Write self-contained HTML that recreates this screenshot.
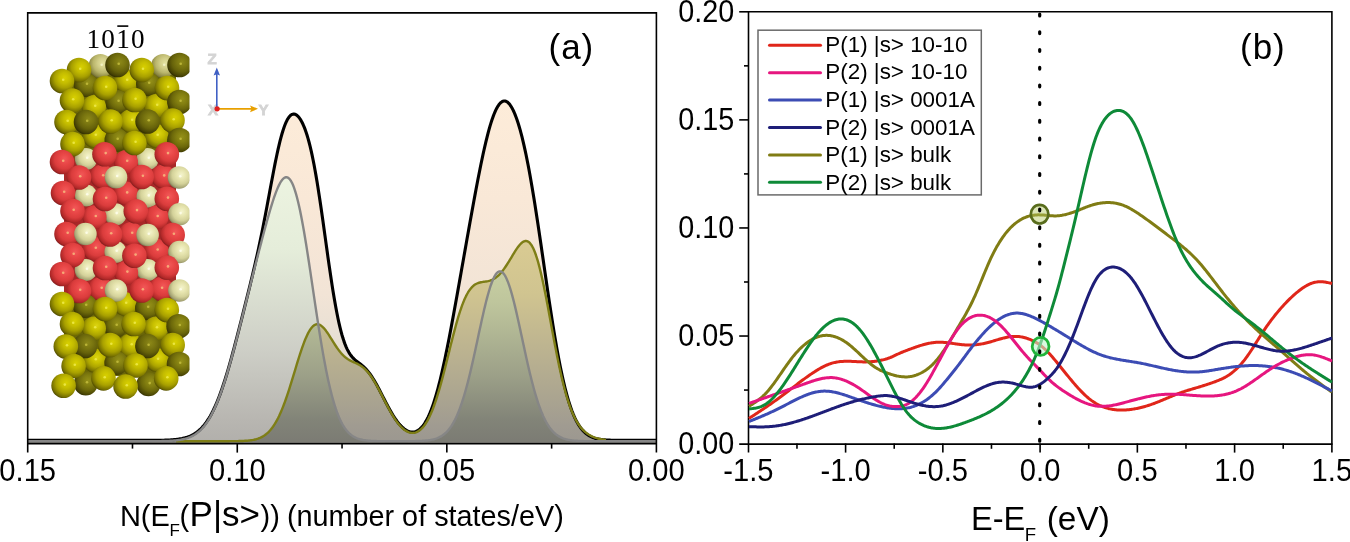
<!DOCTYPE html><html><head><meta charset="utf-8"><style>html,body{margin:0;padding:0;background:#fff;overflow:hidden}svg{display:block;will-change:transform}</style></head><body><svg width="1350" height="542" viewBox="0 0 1350 542" font-family="Liberation Sans, sans-serif">
<defs><radialGradient id="bY" cx="0.6" cy="0.38" r="0.72" fx="0.6" fy="0.38"><stop offset="0" stop-color="#d8d000"/><stop offset="0.3" stop-color="#c4bc00"/><stop offset="0.56" stop-color="#a8a000"/><stop offset="0.8" stop-color="#767000"/><stop offset="0.95" stop-color="#3e3a00"/></radialGradient><radialGradient id="bL" cx="0.6" cy="0.38" r="0.72" fx="0.6" fy="0.38"><stop offset="0" stop-color="#dcd410"/><stop offset="0.3" stop-color="#c8c000"/><stop offset="0.56" stop-color="#aca400"/><stop offset="0.8" stop-color="#7a7400"/><stop offset="0.95" stop-color="#423e00"/></radialGradient><radialGradient id="bD" cx="0.6" cy="0.38" r="0.72" fx="0.6" fy="0.38"><stop offset="0" stop-color="#8c8818"/><stop offset="0.3" stop-color="#7a7610"/><stop offset="0.56" stop-color="#66620a"/><stop offset="0.8" stop-color="#464204"/><stop offset="0.95" stop-color="#262400"/></radialGradient><radialGradient id="bO" cx="0.6" cy="0.38" r="0.72" fx="0.6" fy="0.38"><stop offset="0" stop-color="#949018"/><stop offset="0.3" stop-color="#827e10"/><stop offset="0.56" stop-color="#6c680a"/><stop offset="0.8" stop-color="#4a4604"/><stop offset="0.95" stop-color="#2a2800"/></radialGradient><radialGradient id="bP" cx="0.6" cy="0.38" r="0.72" fx="0.6" fy="0.38"><stop offset="0" stop-color="#e4e2a0"/><stop offset="0.3" stop-color="#d2ce88"/><stop offset="0.56" stop-color="#bab66c"/><stop offset="0.8" stop-color="#8c8844"/><stop offset="0.95" stop-color="#5a5628"/></radialGradient><radialGradient id="bR" cx="0.6" cy="0.38" r="0.72" fx="0.6" fy="0.38"><stop offset="0" stop-color="#f25858"/><stop offset="0.3" stop-color="#e84646"/><stop offset="0.56" stop-color="#da3c3c"/><stop offset="0.8" stop-color="#b02828"/><stop offset="0.95" stop-color="#701818"/></radialGradient><radialGradient id="bC" cx="0.6" cy="0.38" r="0.72" fx="0.6" fy="0.38"><stop offset="0" stop-color="#f4f4cc"/><stop offset="0.3" stop-color="#e6e4ae"/><stop offset="0.56" stop-color="#d4d29a"/><stop offset="0.8" stop-color="#a6a474"/><stop offset="0.95" stop-color="#6a6848"/></radialGradient><linearGradient id="slabbg" x1="0" y1="0" x2="0" y2="1"><stop offset="0" stop-color="#6a6608"/><stop offset="0.27" stop-color="#6a6608"/><stop offset="0.3" stop-color="#a82828"/><stop offset="0.73" stop-color="#a82828"/><stop offset="0.76" stop-color="#6a6608"/><stop offset="1" stop-color="#6a6608"/></linearGradient><clipPath id="slab"><rect x="40" y="40" width="149.5" height="380"/></clipPath><linearGradient id="gB" gradientUnits="userSpaceOnUse" x1="0" y1="100" x2="0" y2="440"><stop offset="0" stop-color="#fdecd9"/><stop offset="0.29" stop-color="#f9e8d7"/><stop offset="0.57" stop-color="#f2e4d6"/><stop offset="0.69" stop-color="#e8e0d4"/><stop offset="1" stop-color="#d6d0c8"/></linearGradient><linearGradient id="gG" gradientUnits="userSpaceOnUse" x1="0" y1="100" x2="0" y2="440"><stop offset="0.21" stop-color="#edf4e1"/><stop offset="0.44" stop-color="#e5edda"/><stop offset="0.74" stop-color="#cdcec6"/><stop offset="0.94" stop-color="#b8b6b1"/><stop offset="1" stop-color="#b2b0ac"/></linearGradient><linearGradient id="gO" gradientUnits="userSpaceOnUse" x1="0" y1="100" x2="0" y2="440"><stop offset="0.38" stop-color="#dacc94"/><stop offset="0.44" stop-color="#d8ca92"/><stop offset="0.57" stop-color="#d0c490"/><stop offset="0.88" stop-color="#aaa490"/><stop offset="0.96" stop-color="#a09b91"/><stop offset="1" stop-color="#9c9890"/></linearGradient><linearGradient id="gGO" gradientUnits="userSpaceOnUse" x1="0" y1="100" x2="0" y2="440"><stop offset="0.47" stop-color="#c8cfa4"/><stop offset="0.54" stop-color="#c4cba0"/><stop offset="0.6" stop-color="#bec59c"/><stop offset="0.81" stop-color="#9ca088"/><stop offset="0.94" stop-color="#828478"/><stop offset="1" stop-color="#7c7c74"/></linearGradient></defs>
<rect width="1350" height="542" fill="#fff"/>
<clipPath id="cG"><path d="M28,441.2L29,441.2L30,441.2L31,441.2L32,441.2L33,441.2L34,441.2L35,441.2L36,441.2L37,441.2L38,441.2L39,441.2L40,441.2L41,441.2L42,441.2L43,441.2L44,441.2L45,441.2L46,441.2L47,441.2L48,441.2L49,441.2L50,441.2L51,441.2L52,441.2L53,441.2L54,441.2L55,441.2L56,441.2L57,441.2L58,441.2L59,441.2L60,441.2L61,441.2L62,441.2L63,441.2L64,441.2L65,441.2L66,441.2L67,441.2L68,441.2L69,441.2L70,441.2L71,441.2L72,441.2L73,441.2L74,441.2L75,441.2L76,441.2L77,441.2L78,441.2L79,441.2L80,441.2L81,441.2L82,441.2L83,441.2L84,441.2L85,441.2L86,441.2L87,441.2L88,441.2L89,441.2L90,441.2L91,441.2L92,441.2L93,441.2L94,441.2L95,441.2L96,441.2L97,441.2L98,441.2L99,441.2L100,441.2L101,441.2L102,441.2L103,441.2L104,441.2L105,441.2L106,441.2L107,441.2L108,441.2L109,441.2L110,441.2L111,441.2L112,441.2L113,441.2L114,441.2L115,441.2L116,441.2L117,441.2L118,441.2L119,441.2L120,441.2L121,441.2L122,441.2L123,441.2L124,441.2L125,441.2L126,441.2L127,441.2L128,441.2L129,441.2L130,441.2L131,441.2L132,441.2L133,441.2L134,441.2L135,441.2L136,441.2L137,441.2L138,441.2L139,441.2L140,441.2L141,441.2L142,441.19L143,441.19L144,441.19L145,441.19L146,441.19L147,441.19L148,441.19L149,441.18L150,441.18L151,441.18L152,441.17L153,441.17L154,441.16L155,441.16L156,441.15L157,441.14L158,441.13L159,441.12L160,441.1L161,441.09L162,441.07L163,441.05L164,441.03L165,441L166,440.97L167,440.94L168,440.9L169,440.86L170,440.81L171,440.76L172,440.69L173,440.62L174,440.55L175,440.46L176,440.36L177,440.25L178,440.13L179,439.99L180,439.84L181,439.67L182,439.48L183,439.27L184,439.04L185,438.79L186,438.51L187,438.2L188,437.86L189,437.49L190,437.08L191,436.64L192,436.16L193,435.63L194,435.06L195,434.44L196,433.77L197,433.05L198,432.27L199,431.42L200,430.52L201,429.54L202,428.5L203,427.39L204,426.2L205,424.93L206,423.57L207,422.14L208,420.62L209,419.01L210,417.31L211,415.51L212,413.62L213,411.64L214,409.56L215,407.38L216,405.1L217,402.73L218,400.25L219,397.68L220,395.01L221,392.25L222,389.39L223,386.44L224,383.41L225,380.28L226,377.08L227,373.79L228,370.43L229,367L230,363.5L231,359.93L232,356.31L233,352.63L234,348.91L235,345.14L236,341.33L237,337.49L238,333.62L239,329.72L240,325.8L241,321.87L242,317.92L243,313.96L244,310L245,306.03L246,302.06L247,298.09L248,294.13L249,290.17L250,286.21L251,282.26L252,278.33L253,274.4L254,270.47L255,266.56L256,262.66L257,258.77L258,254.9L259,251.03L260,247.19L261,243.36L262,239.55L263,235.77L264,232.02L265,228.3L266,224.62L267,220.99L268,217.42L269,213.91L270,210.48L271,207.13L272,203.88L273,200.75L274,197.74L275,194.87L276,192.16L277,189.62L278,187.26L279,185.12L280,183.19L281,181.51L282,180.08L283,178.92L284,178.05L285,177.48L286,177.22L287,177.29L288,177.7L289,178.46L290,179.57L291,181.04L292,182.87L293,185.06L294,187.63L295,190.55L296,193.83L297,197.46L298,201.42L299,205.72L300,210.32L301,215.23L302,220.41L303,225.86L304,231.55L305,237.45L306,243.55L307,249.82L308,256.24L309,262.78L310,269.41L311,276.11L312,282.86L313,289.62L314,296.38L315,303.1L316,309.78L317,316.37L318,322.88L319,329.27L320,335.52L321,341.63L322,347.58L323,353.35L324,358.93L325,364.31L326,369.49L327,374.46L328,379.21L329,383.75L330,388.06L331,392.15L332,396.02L333,399.67L334,403.11L335,406.33L336,409.35L337,412.17L338,414.79L339,417.23L340,419.49L341,421.58L342,423.5L343,425.27L344,426.89L345,428.38L346,429.73L347,430.97L348,432.09L349,433.1L350,434.02L351,434.85L352,435.59L353,436.26L354,436.85L355,437.39L356,437.86L357,438.28L358,438.66L359,438.99L360,439.28L361,439.54L362,439.76L363,439.96L364,440.13L365,440.28L366,440.41L367,440.53L368,440.63L369,440.71L370,440.79L371,440.85L372,440.9L373,440.95L374,440.99L375,441.02L376,441.05L377,441.08L378,441.1L379,441.11L380,441.13L381,441.14L382,441.15L383,441.16L384,441.17L385,441.17L386,441.18L387,441.18L388,441.18L389,441.19L390,441.19L391,441.19L392,441.19L393,441.19L394,441.19L395,441.19L396,441.19L397,441.19L398,441.19L399,441.19L400,441.19L401,441.19L402,441.19L403,441.19L404,441.19L405,441.18L406,441.18L407,441.18L408,441.17L409,441.16L410,441.16L411,441.15L412,441.14L413,441.13L414,441.11L415,441.09L416,441.07L417,441.05L418,441.02L419,440.99L420,440.96L421,440.91L422,440.86L423,440.8L424,440.74L425,440.66L426,440.57L427,440.47L428,440.35L429,440.22L430,440.07L431,439.89L432,439.69L433,439.47L434,439.22L435,438.94L436,438.62L437,438.26L438,437.86L439,437.41L440,436.91L441,436.36L442,435.74L443,435.06L444,434.31L445,433.48L446,432.57L447,431.57L448,430.48L449,429.29L450,427.99L451,426.59L452,425.06L453,423.42L454,421.64L455,419.74L456,417.69L457,415.51L458,413.17L459,410.69L460,408.06L461,405.27L462,402.33L463,399.23L464,395.98L465,392.58L466,389.02L467,385.33L468,381.49L469,377.52L470,373.42L471,369.21L472,364.89L473,360.48L474,355.98L475,351.43L476,346.82L477,342.17L478,337.52L479,332.86L480,328.23L481,323.63L482,319.11L483,314.66L484,310.33L485,306.12L486,302.06L487,298.17L488,294.48L489,290.99L490,287.74L491,284.74L492,282L493,279.55L494,277.4L495,275.56L496,274.03L497,272.84L498,271.99L499,271.48L500,271.32L501,271.5L502,272.03L503,272.91L504,274.12L505,275.66L506,277.53L507,279.7L508,282.17L509,284.92L510,287.94L511,291.21L512,294.7L513,298.41L514,302.31L515,306.38L516,310.6L517,314.94L518,319.39L519,323.92L520,328.52L521,333.15L522,337.81L523,342.47L524,347.11L525,351.71L526,356.27L527,360.76L528,365.16L529,369.48L530,373.68L531,377.77L532,381.73L533,385.56L534,389.25L535,392.8L536,396.19L537,399.43L538,402.52L539,405.45L540,408.23L541,410.85L542,413.33L543,415.65L544,417.83L545,419.86L546,421.76L547,423.53L548,425.16L549,426.68L550,428.08L551,429.37L552,430.55L553,431.64L554,432.63L555,433.53L556,434.36L557,435.1L558,435.78L559,436.39L560,436.94L561,437.44L562,437.88L563,438.28L564,438.64L565,438.96L566,439.24L567,439.49L568,439.71L569,439.9L570,440.08L571,440.23L572,440.36L573,440.47L574,440.58L575,440.66L576,440.74L577,440.81L578,440.87L579,440.91L580,440.96L581,440.99L582,441.03L583,441.05L584,441.08L585,441.1L586,441.11L587,441.13L588,441.14L589,441.15L590,441.16L591,441.16L592,441.17L593,441.18L594,441.18L595,441.18L596,441.19L597,441.19L598,441.19L599,441.19L600,441.19L601,441.2L602,441.2L603,441.2L604,441.2L605,441.2L606,441.2L607,441.2L608,441.2L609,441.2L610,441.2L611,441.2L612,441.2L613,441.2L614,441.2L615,441.2L616,441.2L617,441.2L618,441.2L619,441.2L620,441.2L621,441.2L622,441.2L623,441.2L624,441.2L625,441.2L626,441.2L627,441.2L628,441.2L629,441.2L630,441.2L631,441.2L632,441.2L633,441.2L634,441.2L635,441.2L636,441.2L637,441.2L638,441.2L639,441.2L640,441.2L641,441.2L642,441.2L643,441.2L644,441.2L645,441.2L646,441.2L647,441.2L648,441.2L649,441.2L650,441.2L651,441.2L652,441.2L653,441.2L654,441.2L655,441.2L656,441.2L656,442.8L28,442.8Z"/></clipPath>
<path d="M28,441.2L29,441.2L30,441.2L31,441.2L32,441.2L33,441.2L34,441.2L35,441.2L36,441.2L37,441.2L38,441.2L39,441.2L40,441.2L41,441.2L42,441.2L43,441.2L44,441.2L45,441.2L46,441.2L47,441.2L48,441.2L49,441.2L50,441.2L51,441.2L52,441.2L53,441.2L54,441.2L55,441.2L56,441.2L57,441.2L58,441.2L59,441.2L60,441.2L61,441.2L62,441.2L63,441.2L64,441.2L65,441.2L66,441.2L67,441.2L68,441.2L69,441.2L70,441.2L71,441.2L72,441.2L73,441.2L74,441.2L75,441.2L76,441.2L77,441.2L78,441.2L79,441.2L80,441.2L81,441.2L82,441.2L83,441.2L84,441.2L85,441.2L86,441.2L87,441.2L88,441.2L89,441.2L90,441.2L91,441.2L92,441.2L93,441.2L94,441.2L95,441.2L96,441.2L97,441.2L98,441.2L99,441.2L100,441.2L101,441.2L102,441.2L103,441.2L104,441.2L105,441.2L106,441.2L107,441.2L108,441.2L109,441.2L110,441.2L111,441.2L112,441.2L113,441.2L114,441.2L115,441.2L116,441.2L117,441.2L118,441.2L119,441.2L120,441.2L121,441.2L122,441.2L123,441.2L124,441.2L125,441.2L126,441.2L127,441.2L128,441.2L129,441.2L130,441.2L131,441.2L132,441.2L133,441.2L134,441.2L135,441.2L136,441.2L137,441.2L138,441.2L139,441.2L140,441.19L141,441.19L142,441.19L143,441.19L144,441.19L145,441.19L146,441.18L147,441.18L148,441.18L149,441.18L150,441.17L151,441.17L152,441.16L153,441.16L154,441.15L155,441.14L156,441.13L157,441.12L158,441.11L159,441.09L160,441.08L161,441.06L162,441.04L163,441.02L164,440.99L165,440.96L166,440.93L167,440.89L168,440.84L169,440.8L170,440.74L171,440.68L172,440.61L173,440.54L174,440.45L175,440.35L176,440.25L177,440.13L178,440L179,439.85L180,439.69L181,439.51L182,439.32L183,439.1L184,438.86L185,438.6L186,438.31L187,438L188,437.65L189,437.28L190,436.87L191,436.42L192,435.93L193,435.4L194,434.83L195,434.21L196,433.54L197,432.82L198,432.04L199,431.2L200,430.31L201,429.34L202,428.31L203,427.21L204,426.03L205,424.77L206,423.44L207,422.02L208,420.52L209,418.93L210,417.25L211,415.48L212,413.62L213,411.65L214,409.59L215,407.44L216,405.18L217,402.83L218,400.37L219,397.82L220,395.16L221,392.41L222,389.57L223,386.63L224,383.6L225,380.48L226,377.27L227,373.99L228,370.63L229,367.19L230,363.68L231,360.11L232,356.49L233,352.81L234,349.08L235,345.31L236,341.5L237,337.66L238,333.79L239,329.9L240,325.99L241,322.06L242,318.12L243,314.16L244,310.2L245,306.22L246,302.23L247,298.23L248,294.2L249,290.16L250,286.09L251,281.99L252,277.85L253,273.66L254,269.42L255,265.11L256,260.74L257,256.3L258,251.77L259,247.15L260,242.45L261,237.64L262,232.75L263,227.76L264,222.69L265,217.53L266,212.3L267,207.01L268,201.67L269,196.31L270,190.93L271,185.57L272,180.24L273,174.97L274,169.79L275,164.72L276,159.8L277,155.04L278,150.47L279,146.11L280,142L281,138.14L282,134.56L283,131.26L284,128.26L285,125.56L286,123.17L287,121.1L288,119.33L289,117.87L290,116.7L291,115.83L292,115.24L293,114.92L294,114.86L295,115.06L296,115.5L297,116.18L298,117.09L299,118.23L300,119.6L301,121.19L302,123.02L303,125.08L304,127.39L305,129.94L306,132.75L307,135.83L308,139.18L309,142.81L310,146.73L311,150.94L312,155.45L313,160.26L314,165.36L315,170.75L316,176.42L317,182.36L318,188.54L319,194.95L320,201.57L321,208.36L322,215.31L323,222.37L324,229.51L325,236.71L326,243.91L327,251.09L328,258.22L329,265.24L330,272.14L331,278.87L332,285.41L333,291.73L334,297.81L335,303.62L336,309.14L337,314.37L338,319.29L339,323.9L340,328.18L341,332.15L342,335.8L343,339.14L344,342.18L345,344.94L346,347.42L347,349.64L348,351.63L349,353.4L350,354.98L351,356.37L352,357.62L353,358.73L354,359.73L355,360.65L356,361.49L357,362.29L358,363.06L359,363.81L360,364.58L361,365.35L362,366.16L363,367.02L364,367.92L365,368.89L366,369.92L367,371.03L368,372.21L369,373.47L370,374.81L371,376.23L372,377.72L373,379.28L374,380.91L375,382.6L376,384.36L377,386.16L378,388L379,389.89L380,391.8L381,393.74L382,395.69L383,397.64L384,399.6L385,401.55L386,403.48L387,405.39L388,407.26L389,409.11L390,410.91L391,412.66L392,414.36L393,416.01L394,417.59L395,419.11L396,420.56L397,421.94L398,423.25L399,424.48L400,425.64L401,426.71L402,427.7L403,428.61L404,429.44L405,430.18L406,430.83L407,431.4L408,431.87L409,432.26L410,432.54L411,432.74L412,432.83L413,432.83L414,432.72L415,432.5L416,432.17L417,431.73L418,431.17L419,430.49L420,429.68L421,428.74L422,427.67L423,426.46L424,425.1L425,423.59L426,421.93L427,420.12L428,418.14L429,416L430,413.69L431,411.22L432,408.57L433,405.76L434,402.77L435,399.61L436,396.29L437,392.79L438,389.13L439,385.31L440,381.33L441,377.2L442,372.92L443,368.51L444,363.96L445,359.28L446,354.49L447,349.58L448,344.58L449,339.48L450,334.29L451,329.03L452,323.7L453,318.31L454,312.87L455,307.37L456,301.84L457,296.28L458,290.69L459,285.07L460,279.44L461,273.8L462,268.15L463,262.49L464,256.84L465,251.18L466,245.53L467,239.9L468,234.27L469,228.67L470,223.08L471,217.53L472,212L473,206.51L474,201.07L475,195.68L476,190.34L477,185.07L478,179.87L479,174.76L480,169.74L481,164.83L482,160.03L483,155.35L484,150.81L485,146.41L486,142.17L487,138.1L488,134.2L489,130.5L490,126.98L491,123.68L492,120.58L493,117.71L494,115.06L495,112.64L496,110.46L497,108.52L498,106.83L499,105.38L500,104.18L501,103.22L502,102.51L503,102.05L504,101.84L505,101.87L506,102.15L507,102.66L508,103.41L509,104.4L510,105.62L511,107.08L512,108.76L513,110.67L514,112.8L515,115.16L516,117.74L517,120.54L518,123.55L519,126.79L520,130.24L521,133.9L522,137.77L523,141.86L524,146.15L525,150.64L526,155.34L527,160.24L528,165.33L529,170.6L530,176.06L531,181.7L532,187.5L533,193.47L534,199.58L535,205.83L536,212.22L537,218.71L538,225.31L539,232L540,238.77L541,245.59L542,252.46L543,259.36L544,266.27L545,273.18L546,280.06L547,286.91L548,293.7L549,300.43L550,307.07L551,313.61L552,320.04L553,326.35L554,332.51L555,338.52L556,344.38L557,350.06L558,355.56L559,360.88L560,366L561,370.93L562,375.66L563,380.18L564,384.5L565,388.61L566,392.51L567,396.21L568,399.71L569,403.01L570,406.12L571,409.04L572,411.77L573,414.32L574,416.7L575,418.91L576,420.96L577,422.86L578,424.62L579,426.23L580,427.72L581,429.08L582,430.33L583,431.47L584,432.5L585,433.44L586,434.3L587,435.07L588,435.77L589,436.39L590,436.96L591,437.46L592,437.91L593,438.32L594,438.67L595,438.99L596,439.28L597,439.52L598,439.74L599,439.94L600,440.11L601,440.26L602,440.39L603,440.5L604,440.6L605,440.69L606,440.76L607,440.83L608,440.88L609,440.93L610,440.97L611,441.01L612,441.04L613,441.06L614,441.08L615,441.1L616,441.12L617,441.13L618,441.14L619,441.15L620,441.16L621,441.17L622,441.17L623,441.18L624,441.18L625,441.19L626,441.19L627,441.19L628,441.19L629,441.19L630,441.19L631,441.2L632,441.2L633,441.2L634,441.2L635,441.2L636,441.2L637,441.2L638,441.2L639,441.2L640,441.2L641,441.2L642,441.2L643,441.2L644,441.2L645,441.2L646,441.2L647,441.2L648,441.2L649,441.2L650,441.2L651,441.2L652,441.2L653,441.2L654,441.2L655,441.2L656,441.2L656,442.8L28,442.8Z" fill="url(#gB)"/>
<path d="M28,441.2L29,441.2L30,441.2L31,441.2L32,441.2L33,441.2L34,441.2L35,441.2L36,441.2L37,441.2L38,441.2L39,441.2L40,441.2L41,441.2L42,441.2L43,441.2L44,441.2L45,441.2L46,441.2L47,441.2L48,441.2L49,441.2L50,441.2L51,441.2L52,441.2L53,441.2L54,441.2L55,441.2L56,441.2L57,441.2L58,441.2L59,441.2L60,441.2L61,441.2L62,441.2L63,441.2L64,441.2L65,441.2L66,441.2L67,441.2L68,441.2L69,441.2L70,441.2L71,441.2L72,441.2L73,441.2L74,441.2L75,441.2L76,441.2L77,441.2L78,441.2L79,441.2L80,441.2L81,441.2L82,441.2L83,441.2L84,441.2L85,441.2L86,441.2L87,441.2L88,441.2L89,441.2L90,441.2L91,441.2L92,441.2L93,441.2L94,441.2L95,441.2L96,441.2L97,441.2L98,441.2L99,441.2L100,441.2L101,441.2L102,441.2L103,441.2L104,441.2L105,441.2L106,441.2L107,441.2L108,441.2L109,441.2L110,441.2L111,441.2L112,441.2L113,441.2L114,441.2L115,441.2L116,441.2L117,441.2L118,441.2L119,441.2L120,441.2L121,441.2L122,441.2L123,441.2L124,441.2L125,441.2L126,441.2L127,441.2L128,441.2L129,441.2L130,441.2L131,441.2L132,441.2L133,441.2L134,441.2L135,441.2L136,441.2L137,441.2L138,441.2L139,441.2L140,441.2L141,441.2L142,441.2L143,441.2L144,441.2L145,441.2L146,441.2L147,441.2L148,441.2L149,441.2L150,441.2L151,441.2L152,441.2L153,441.2L154,441.2L155,441.2L156,441.2L157,441.2L158,441.2L159,441.2L160,441.2L161,441.2L162,441.2L163,441.2L164,441.2L165,441.2L166,441.2L167,441.2L168,441.2L169,441.2L170,441.2L171,441.2L172,441.2L173,441.2L174,441.2L175,441.2L176,441.2L177,441.2L178,441.2L179,441.2L180,441.2L181,441.2L182,441.2L183,441.2L184,441.2L185,441.2L186,441.2L187,441.2L188,441.2L189,441.2L190,441.2L191,441.2L192,441.2L193,441.2L194,441.2L195,441.2L196,441.2L197,441.2L198,441.2L199,441.2L200,441.2L201,441.2L202,441.2L203,441.2L204,441.2L205,441.2L206,441.2L207,441.2L208,441.2L209,441.2L210,441.2L211,441.2L212,441.2L213,441.2L214,441.2L215,441.2L216,441.2L217,441.2L218,441.2L219,441.2L220,441.2L221,441.2L222,441.2L223,441.19L224,441.19L225,441.19L226,441.19L227,441.19L228,441.18L229,441.18L230,441.17L231,441.17L232,441.16L233,441.15L234,441.15L235,441.13L236,441.12L237,441.1L238,441.09L239,441.06L240,441.04L241,441.01L242,440.97L243,440.93L244,440.88L245,440.82L246,440.75L247,440.68L248,440.59L249,440.49L250,440.37L251,440.23L252,440.08L253,439.91L254,439.71L255,439.48L256,439.23L257,438.94L258,438.61L259,438.25L260,437.84L261,437.39L262,436.89L263,436.33L264,435.71L265,435.02L266,434.27L267,433.44L268,432.54L269,431.55L270,430.47L271,429.31L272,428.04L273,426.68L274,425.21L275,423.63L276,421.94L277,420.14L278,418.22L279,416.19L280,414.04L281,411.77L282,409.39L283,406.89L284,404.29L285,401.58L286,398.76L287,395.86L288,392.86L289,389.79L290,386.65L291,383.45L292,380.2L293,376.91L294,373.6L295,370.29L296,366.98L297,363.69L298,360.44L299,357.24L300,354.12L301,351.07L302,348.13L303,345.3L304,342.61L305,340.06L306,337.66L307,335.44L308,333.4L309,331.55L310,329.9L311,328.46L312,327.22L313,326.21L314,325.4L315,324.82L316,324.44L317,324.28L318,324.32L319,324.56L320,324.98L321,325.59L322,326.36L323,327.28L324,328.34L325,329.53L326,330.83L327,332.21L328,333.68L329,335.2L330,336.77L331,338.37L332,339.98L333,341.59L334,343.19L335,344.75L336,346.28L337,347.76L338,349.17L339,350.52L340,351.8L341,353L342,354.13L343,355.17L344,356.13L345,357.02L346,357.82L347,358.56L348,359.23L349,359.85L350,360.41L351,360.93L352,361.42L353,361.88L354,362.33L355,362.78L356,363.23L357,363.7L358,364.19L359,364.72L360,365.3L361,365.92L362,366.61L363,367.36L364,368.19L365,369.09L366,370.06L367,371.12L368,372.27L369,373.49L370,374.8L371,376.19L372,377.66L373,379.21L374,380.82L375,382.5L376,384.24L377,386.04L378,387.88L379,389.76L380,391.67L381,393.6L382,395.56L383,397.52L384,399.48L385,401.43L386,403.37L387,405.29L388,407.18L389,409.04L390,410.85L391,412.62L392,414.33L393,415.99L394,417.58L395,419.11L396,420.58L397,421.96L398,423.28L399,424.52L400,425.67L401,426.75L402,427.74L403,428.66L404,429.48L405,430.22L406,430.87L407,431.44L408,431.91L409,432.3L410,432.59L411,432.79L412,432.9L413,432.91L414,432.82L415,432.63L416,432.33L417,431.93L418,431.42L419,430.8L420,430.06L421,429.2L422,428.22L423,427.12L424,425.88L425,424.51L426,423L427,421.36L428,419.57L429,417.64L430,415.56L431,413.33L432,410.96L433,408.44L434,405.77L435,402.96L436,400.01L437,396.92L438,393.7L439,390.35L440,386.89L441,383.31L442,379.64L443,375.87L444,372.03L445,368.12L446,364.15L447,360.15L448,356.12L449,352.09L450,348.06L451,344.05L452,340.09L453,336.17L454,332.33L455,328.57L456,324.91L457,321.36L458,317.94L459,314.65L460,311.51L461,308.53L462,305.71L463,303.06L464,300.59L465,298.29L466,296.17L467,294.23L468,292.47L469,290.87L470,289.45L471,288.19L472,287.08L473,286.11L474,285.29L475,284.58L476,283.99L477,283.5L478,283.09L479,282.76L480,282.5L481,282.28L482,282.1L483,281.94L484,281.79L485,281.65L486,281.49L487,281.31L488,281.11L489,280.86L490,280.56L491,280.21L492,279.8L493,279.32L494,278.77L495,278.14L496,277.43L497,276.65L498,275.78L499,274.83L500,273.8L501,272.69L502,271.5L503,270.23L504,268.9L505,267.49L506,266.02L507,264.5L508,262.93L509,261.33L510,259.69L511,258.03L512,256.37L513,254.71L514,253.07L515,251.47L516,249.91L517,248.42L518,247.02L519,245.71L520,244.53L521,243.48L522,242.59L523,241.88L524,241.35L525,241.04L526,240.96L527,241.12L528,241.53L529,242.22L530,243.19L531,244.45L532,246.01L533,247.87L534,250.04L535,252.51L536,255.28L537,258.34L538,261.7L539,265.32L540,269.22L541,273.36L542,277.73L543,282.31L544,287.08L545,292.01L546,297.09L547,302.29L548,307.59L549,312.95L550,318.35L551,323.78L552,329.19L553,334.58L554,339.92L555,345.19L556,350.36L557,355.43L558,360.37L559,365.17L560,369.82L561,374.31L562,378.63L563,382.77L564,386.73L565,390.51L566,394.1L567,397.5L568,400.71L569,403.74L570,406.59L571,409.26L572,411.76L573,414.1L574,416.28L575,418.3L576,420.19L577,421.93L578,423.54L579,425.04L580,426.41L581,427.68L582,428.85L583,429.92L584,430.91L585,431.81L586,432.64L587,433.4L588,434.1L589,434.73L590,435.31L591,435.85L592,436.33L593,436.78L594,437.18L595,437.55L596,437.89L597,438.2L598,438.48L599,438.74L600,438.97L601,439.18L602,439.38L603,439.55L604,439.71L605,439.86L606,439.99L607,440.11L608,440.22L609,440.32L610,440.41L611,440.49L612,440.56L613,440.63L614,440.69L615,440.74L616,440.79L617,440.84L618,440.87L619,440.91L620,440.94L621,440.97L622,441L623,441.02L624,441.04L625,441.06L626,441.07L627,441.09L628,441.1L629,441.11L630,441.12L631,441.13L632,441.14L633,441.15L634,441.15L635,441.16L636,441.17L637,441.17L638,441.17L639,441.18L640,441.18L641,441.18L642,441.18L643,441.19L644,441.19L645,441.19L646,441.19L647,441.19L648,441.19L649,441.19L650,441.2L651,441.2L652,441.2L653,441.2L654,441.2L655,441.2L656,441.2L656,442.8L28,442.8Z" fill="url(#gO)"/>
<path d="M28,441.2L29,441.2L30,441.2L31,441.2L32,441.2L33,441.2L34,441.2L35,441.2L36,441.2L37,441.2L38,441.2L39,441.2L40,441.2L41,441.2L42,441.2L43,441.2L44,441.2L45,441.2L46,441.2L47,441.2L48,441.2L49,441.2L50,441.2L51,441.2L52,441.2L53,441.2L54,441.2L55,441.2L56,441.2L57,441.2L58,441.2L59,441.2L60,441.2L61,441.2L62,441.2L63,441.2L64,441.2L65,441.2L66,441.2L67,441.2L68,441.2L69,441.2L70,441.2L71,441.2L72,441.2L73,441.2L74,441.2L75,441.2L76,441.2L77,441.2L78,441.2L79,441.2L80,441.2L81,441.2L82,441.2L83,441.2L84,441.2L85,441.2L86,441.2L87,441.2L88,441.2L89,441.2L90,441.2L91,441.2L92,441.2L93,441.2L94,441.2L95,441.2L96,441.2L97,441.2L98,441.2L99,441.2L100,441.2L101,441.2L102,441.2L103,441.2L104,441.2L105,441.2L106,441.2L107,441.2L108,441.2L109,441.2L110,441.2L111,441.2L112,441.2L113,441.2L114,441.2L115,441.2L116,441.2L117,441.2L118,441.2L119,441.2L120,441.2L121,441.2L122,441.2L123,441.2L124,441.2L125,441.2L126,441.2L127,441.2L128,441.2L129,441.2L130,441.2L131,441.2L132,441.2L133,441.2L134,441.2L135,441.2L136,441.2L137,441.2L138,441.2L139,441.2L140,441.2L141,441.2L142,441.19L143,441.19L144,441.19L145,441.19L146,441.19L147,441.19L148,441.19L149,441.18L150,441.18L151,441.18L152,441.17L153,441.17L154,441.16L155,441.16L156,441.15L157,441.14L158,441.13L159,441.12L160,441.1L161,441.09L162,441.07L163,441.05L164,441.03L165,441L166,440.97L167,440.94L168,440.9L169,440.86L170,440.81L171,440.76L172,440.69L173,440.62L174,440.55L175,440.46L176,440.36L177,440.25L178,440.13L179,439.99L180,439.84L181,439.67L182,439.48L183,439.27L184,439.04L185,438.79L186,438.51L187,438.2L188,437.86L189,437.49L190,437.08L191,436.64L192,436.16L193,435.63L194,435.06L195,434.44L196,433.77L197,433.05L198,432.27L199,431.42L200,430.52L201,429.54L202,428.5L203,427.39L204,426.2L205,424.93L206,423.57L207,422.14L208,420.62L209,419.01L210,417.31L211,415.51L212,413.62L213,411.64L214,409.56L215,407.38L216,405.1L217,402.73L218,400.25L219,397.68L220,395.01L221,392.25L222,389.39L223,386.44L224,383.41L225,380.28L226,377.08L227,373.79L228,370.43L229,367L230,363.5L231,359.93L232,356.31L233,352.63L234,348.91L235,345.14L236,341.33L237,337.49L238,333.62L239,329.72L240,325.8L241,321.87L242,317.92L243,313.96L244,310L245,306.03L246,302.06L247,298.09L248,294.13L249,290.17L250,286.21L251,282.26L252,278.33L253,274.4L254,270.47L255,266.56L256,262.66L257,258.77L258,254.9L259,251.03L260,247.19L261,243.36L262,239.55L263,235.77L264,232.02L265,228.3L266,224.62L267,220.99L268,217.42L269,213.91L270,210.48L271,207.13L272,203.88L273,200.75L274,197.74L275,194.87L276,192.16L277,189.62L278,187.26L279,185.12L280,183.19L281,181.51L282,180.08L283,178.92L284,178.05L285,177.48L286,177.22L287,177.29L288,177.7L289,178.46L290,179.57L291,181.04L292,182.87L293,185.06L294,187.63L295,190.55L296,193.83L297,197.46L298,201.42L299,205.72L300,210.32L301,215.23L302,220.41L303,225.86L304,231.55L305,237.45L306,243.55L307,249.82L308,256.24L309,262.78L310,269.41L311,276.11L312,282.86L313,289.62L314,296.38L315,303.1L316,309.78L317,316.37L318,322.88L319,329.27L320,335.52L321,341.63L322,347.58L323,353.35L324,358.93L325,364.31L326,369.49L327,374.46L328,379.21L329,383.75L330,388.06L331,392.15L332,396.02L333,399.67L334,403.11L335,406.33L336,409.35L337,412.17L338,414.79L339,417.23L340,419.49L341,421.58L342,423.5L343,425.27L344,426.89L345,428.38L346,429.73L347,430.97L348,432.09L349,433.1L350,434.02L351,434.85L352,435.59L353,436.26L354,436.85L355,437.39L356,437.86L357,438.28L358,438.66L359,438.99L360,439.28L361,439.54L362,439.76L363,439.96L364,440.13L365,440.28L366,440.41L367,440.53L368,440.63L369,440.71L370,440.79L371,440.85L372,440.9L373,440.95L374,440.99L375,441.02L376,441.05L377,441.08L378,441.1L379,441.11L380,441.13L381,441.14L382,441.15L383,441.16L384,441.17L385,441.17L386,441.18L387,441.18L388,441.18L389,441.19L390,441.19L391,441.19L392,441.19L393,441.19L394,441.19L395,441.19L396,441.19L397,441.19L398,441.19L399,441.19L400,441.19L401,441.19L402,441.19L403,441.19L404,441.19L405,441.18L406,441.18L407,441.18L408,441.17L409,441.16L410,441.16L411,441.15L412,441.14L413,441.13L414,441.11L415,441.09L416,441.07L417,441.05L418,441.02L419,440.99L420,440.96L421,440.91L422,440.86L423,440.8L424,440.74L425,440.66L426,440.57L427,440.47L428,440.35L429,440.22L430,440.07L431,439.89L432,439.69L433,439.47L434,439.22L435,438.94L436,438.62L437,438.26L438,437.86L439,437.41L440,436.91L441,436.36L442,435.74L443,435.06L444,434.31L445,433.48L446,432.57L447,431.57L448,430.48L449,429.29L450,427.99L451,426.59L452,425.06L453,423.42L454,421.64L455,419.74L456,417.69L457,415.51L458,413.17L459,410.69L460,408.06L461,405.27L462,402.33L463,399.23L464,395.98L465,392.58L466,389.02L467,385.33L468,381.49L469,377.52L470,373.42L471,369.21L472,364.89L473,360.48L474,355.98L475,351.43L476,346.82L477,342.17L478,337.52L479,332.86L480,328.23L481,323.63L482,319.11L483,314.66L484,310.33L485,306.12L486,302.06L487,298.17L488,294.48L489,290.99L490,287.74L491,284.74L492,282L493,279.55L494,277.4L495,275.56L496,274.03L497,272.84L498,271.99L499,271.48L500,271.32L501,271.5L502,272.03L503,272.91L504,274.12L505,275.66L506,277.53L507,279.7L508,282.17L509,284.92L510,287.94L511,291.21L512,294.7L513,298.41L514,302.31L515,306.38L516,310.6L517,314.94L518,319.39L519,323.92L520,328.52L521,333.15L522,337.81L523,342.47L524,347.11L525,351.71L526,356.27L527,360.76L528,365.16L529,369.48L530,373.68L531,377.77L532,381.73L533,385.56L534,389.25L535,392.8L536,396.19L537,399.43L538,402.52L539,405.45L540,408.23L541,410.85L542,413.33L543,415.65L544,417.83L545,419.86L546,421.76L547,423.53L548,425.16L549,426.68L550,428.08L551,429.37L552,430.55L553,431.64L554,432.63L555,433.53L556,434.36L557,435.1L558,435.78L559,436.39L560,436.94L561,437.44L562,437.88L563,438.28L564,438.64L565,438.96L566,439.24L567,439.49L568,439.71L569,439.9L570,440.08L571,440.23L572,440.36L573,440.47L574,440.58L575,440.66L576,440.74L577,440.81L578,440.87L579,440.91L580,440.96L581,440.99L582,441.03L583,441.05L584,441.08L585,441.1L586,441.11L587,441.13L588,441.14L589,441.15L590,441.16L591,441.16L592,441.17L593,441.18L594,441.18L595,441.18L596,441.19L597,441.19L598,441.19L599,441.19L600,441.19L601,441.2L602,441.2L603,441.2L604,441.2L605,441.2L606,441.2L607,441.2L608,441.2L609,441.2L610,441.2L611,441.2L612,441.2L613,441.2L614,441.2L615,441.2L616,441.2L617,441.2L618,441.2L619,441.2L620,441.2L621,441.2L622,441.2L623,441.2L624,441.2L625,441.2L626,441.2L627,441.2L628,441.2L629,441.2L630,441.2L631,441.2L632,441.2L633,441.2L634,441.2L635,441.2L636,441.2L637,441.2L638,441.2L639,441.2L640,441.2L641,441.2L642,441.2L643,441.2L644,441.2L645,441.2L646,441.2L647,441.2L648,441.2L649,441.2L650,441.2L651,441.2L652,441.2L653,441.2L654,441.2L655,441.2L656,441.2L656,442.8L28,442.8Z" fill="url(#gG)"/>
<path d="M28,441.2L29,441.2L30,441.2L31,441.2L32,441.2L33,441.2L34,441.2L35,441.2L36,441.2L37,441.2L38,441.2L39,441.2L40,441.2L41,441.2L42,441.2L43,441.2L44,441.2L45,441.2L46,441.2L47,441.2L48,441.2L49,441.2L50,441.2L51,441.2L52,441.2L53,441.2L54,441.2L55,441.2L56,441.2L57,441.2L58,441.2L59,441.2L60,441.2L61,441.2L62,441.2L63,441.2L64,441.2L65,441.2L66,441.2L67,441.2L68,441.2L69,441.2L70,441.2L71,441.2L72,441.2L73,441.2L74,441.2L75,441.2L76,441.2L77,441.2L78,441.2L79,441.2L80,441.2L81,441.2L82,441.2L83,441.2L84,441.2L85,441.2L86,441.2L87,441.2L88,441.2L89,441.2L90,441.2L91,441.2L92,441.2L93,441.2L94,441.2L95,441.2L96,441.2L97,441.2L98,441.2L99,441.2L100,441.2L101,441.2L102,441.2L103,441.2L104,441.2L105,441.2L106,441.2L107,441.2L108,441.2L109,441.2L110,441.2L111,441.2L112,441.2L113,441.2L114,441.2L115,441.2L116,441.2L117,441.2L118,441.2L119,441.2L120,441.2L121,441.2L122,441.2L123,441.2L124,441.2L125,441.2L126,441.2L127,441.2L128,441.2L129,441.2L130,441.2L131,441.2L132,441.2L133,441.2L134,441.2L135,441.2L136,441.2L137,441.2L138,441.2L139,441.2L140,441.2L141,441.2L142,441.2L143,441.2L144,441.2L145,441.2L146,441.2L147,441.2L148,441.2L149,441.2L150,441.2L151,441.2L152,441.2L153,441.2L154,441.2L155,441.2L156,441.2L157,441.2L158,441.2L159,441.2L160,441.2L161,441.2L162,441.2L163,441.2L164,441.2L165,441.2L166,441.2L167,441.2L168,441.2L169,441.2L170,441.2L171,441.2L172,441.2L173,441.2L174,441.2L175,441.2L176,441.2L177,441.2L178,441.2L179,441.2L180,441.2L181,441.2L182,441.2L183,441.2L184,441.2L185,441.2L186,441.2L187,441.2L188,441.2L189,441.2L190,441.2L191,441.2L192,441.2L193,441.2L194,441.2L195,441.2L196,441.2L197,441.2L198,441.2L199,441.2L200,441.2L201,441.2L202,441.2L203,441.2L204,441.2L205,441.2L206,441.2L207,441.2L208,441.2L209,441.2L210,441.2L211,441.2L212,441.2L213,441.2L214,441.2L215,441.2L216,441.2L217,441.2L218,441.2L219,441.2L220,441.2L221,441.2L222,441.2L223,441.19L224,441.19L225,441.19L226,441.19L227,441.19L228,441.18L229,441.18L230,441.17L231,441.17L232,441.16L233,441.15L234,441.15L235,441.13L236,441.12L237,441.1L238,441.09L239,441.06L240,441.04L241,441.01L242,440.97L243,440.93L244,440.88L245,440.82L246,440.75L247,440.68L248,440.59L249,440.49L250,440.37L251,440.23L252,440.08L253,439.91L254,439.71L255,439.48L256,439.23L257,438.94L258,438.61L259,438.25L260,437.84L261,437.39L262,436.89L263,436.33L264,435.71L265,435.02L266,434.27L267,433.44L268,432.54L269,431.55L270,430.47L271,429.31L272,428.04L273,426.68L274,425.21L275,423.63L276,421.94L277,420.14L278,418.22L279,416.19L280,414.04L281,411.77L282,409.39L283,406.89L284,404.29L285,401.58L286,398.76L287,395.86L288,392.86L289,389.79L290,386.65L291,383.45L292,380.2L293,376.91L294,373.6L295,370.29L296,366.98L297,363.69L298,360.44L299,357.24L300,354.12L301,351.07L302,348.13L303,345.3L304,342.61L305,340.06L306,337.66L307,335.44L308,333.4L309,331.55L310,329.9L311,328.46L312,327.22L313,326.21L314,325.4L315,324.82L316,324.44L317,324.28L318,324.32L319,324.56L320,324.98L321,325.59L322,326.36L323,327.28L324,328.34L325,329.53L326,330.83L327,332.21L328,333.68L329,335.2L330,336.77L331,338.37L332,339.98L333,341.59L334,343.19L335,344.75L336,346.28L337,347.76L338,349.17L339,350.52L340,351.8L341,353L342,354.13L343,355.17L344,356.13L345,357.02L346,357.82L347,358.56L348,359.23L349,359.85L350,360.41L351,360.93L352,361.42L353,361.88L354,362.33L355,362.78L356,363.23L357,363.7L358,364.19L359,364.72L360,365.3L361,365.92L362,366.61L363,367.36L364,368.19L365,369.09L366,370.06L367,371.12L368,372.27L369,373.49L370,374.8L371,376.19L372,377.66L373,379.21L374,380.82L375,382.5L376,384.24L377,386.04L378,387.88L379,389.76L380,391.67L381,393.6L382,395.56L383,397.52L384,399.48L385,401.43L386,403.37L387,405.29L388,407.18L389,409.04L390,410.85L391,412.62L392,414.33L393,415.99L394,417.58L395,419.11L396,420.58L397,421.96L398,423.28L399,424.52L400,425.67L401,426.75L402,427.74L403,428.66L404,429.48L405,430.22L406,430.87L407,431.44L408,431.91L409,432.3L410,432.59L411,432.79L412,432.9L413,432.91L414,432.82L415,432.63L416,432.33L417,431.93L418,431.42L419,430.8L420,430.06L421,429.2L422,428.22L423,427.12L424,425.88L425,424.51L426,423L427,421.36L428,419.57L429,417.64L430,415.56L431,413.33L432,410.96L433,408.44L434,405.77L435,402.96L436,400.01L437,396.92L438,393.7L439,390.35L440,386.89L441,383.31L442,379.64L443,375.87L444,372.03L445,368.12L446,364.15L447,360.15L448,356.12L449,352.09L450,348.06L451,344.05L452,340.09L453,336.17L454,332.33L455,328.57L456,324.91L457,321.36L458,317.94L459,314.65L460,311.51L461,308.53L462,305.71L463,303.06L464,300.59L465,298.29L466,296.17L467,294.23L468,292.47L469,290.87L470,289.45L471,288.19L472,287.08L473,286.11L474,285.29L475,284.58L476,283.99L477,283.5L478,283.09L479,282.76L480,282.5L481,282.28L482,282.1L483,281.94L484,281.79L485,281.65L486,281.49L487,281.31L488,281.11L489,280.86L490,280.56L491,280.21L492,279.8L493,279.32L494,278.77L495,278.14L496,277.43L497,276.65L498,275.78L499,274.83L500,273.8L501,272.69L502,271.5L503,270.23L504,268.9L505,267.49L506,266.02L507,264.5L508,262.93L509,261.33L510,259.69L511,258.03L512,256.37L513,254.71L514,253.07L515,251.47L516,249.91L517,248.42L518,247.02L519,245.71L520,244.53L521,243.48L522,242.59L523,241.88L524,241.35L525,241.04L526,240.96L527,241.12L528,241.53L529,242.22L530,243.19L531,244.45L532,246.01L533,247.87L534,250.04L535,252.51L536,255.28L537,258.34L538,261.7L539,265.32L540,269.22L541,273.36L542,277.73L543,282.31L544,287.08L545,292.01L546,297.09L547,302.29L548,307.59L549,312.95L550,318.35L551,323.78L552,329.19L553,334.58L554,339.92L555,345.19L556,350.36L557,355.43L558,360.37L559,365.17L560,369.82L561,374.31L562,378.63L563,382.77L564,386.73L565,390.51L566,394.1L567,397.5L568,400.71L569,403.74L570,406.59L571,409.26L572,411.76L573,414.1L574,416.28L575,418.3L576,420.19L577,421.93L578,423.54L579,425.04L580,426.41L581,427.68L582,428.85L583,429.92L584,430.91L585,431.81L586,432.64L587,433.4L588,434.1L589,434.73L590,435.31L591,435.85L592,436.33L593,436.78L594,437.18L595,437.55L596,437.89L597,438.2L598,438.48L599,438.74L600,438.97L601,439.18L602,439.38L603,439.55L604,439.71L605,439.86L606,439.99L607,440.11L608,440.22L609,440.32L610,440.41L611,440.49L612,440.56L613,440.63L614,440.69L615,440.74L616,440.79L617,440.84L618,440.87L619,440.91L620,440.94L621,440.97L622,441L623,441.02L624,441.04L625,441.06L626,441.07L627,441.09L628,441.1L629,441.11L630,441.12L631,441.13L632,441.14L633,441.15L634,441.15L635,441.16L636,441.17L637,441.17L638,441.17L639,441.18L640,441.18L641,441.18L642,441.18L643,441.19L644,441.19L645,441.19L646,441.19L647,441.19L648,441.19L649,441.19L650,441.2L651,441.2L652,441.2L653,441.2L654,441.2L655,441.2L656,441.2L656,442.8L28,442.8Z" fill="url(#gGO)" clip-path="url(#cG)"/>
<path d="M28,440.4L29,440.4L30,440.4L31,440.4L32,440.4L33,440.4L34,440.4L35,440.4L36,440.4L37,440.4L38,440.4L39,440.4L40,440.4L41,440.4L42,440.4L43,440.4L44,440.4L45,440.4L46,440.4L47,440.4L48,440.4L49,440.4L50,440.4L51,440.4L52,440.4L53,440.4L54,440.4L55,440.4L56,440.4L57,440.4L58,440.4L59,440.4L60,440.4L61,440.4L62,440.4L63,440.4L64,440.4L65,440.4L66,440.4L67,440.4L68,440.4L69,440.4L70,440.4L71,440.4L72,440.4L73,440.4L74,440.4L75,440.4L76,440.4L77,440.4L78,440.4L79,440.4L80,440.4L81,440.4L82,440.4L83,440.4L84,440.4L85,440.4L86,440.4L87,440.4L88,440.4L89,440.4L90,440.4L91,440.4L92,440.4L93,440.4L94,440.4L95,440.4L96,440.4L97,440.4L98,440.4L99,440.4L100,440.4L101,440.4L102,440.4L103,440.4L104,440.4L105,440.4L106,440.4L107,440.4L108,440.4L109,440.4L110,440.4L111,440.4L112,440.4L113,440.4L114,440.4L115,440.4L116,440.4L117,440.4L118,440.4L119,440.4L120,440.4L121,440.4L122,440.4L123,440.4L124,440.4L125,440.4L126,440.4L127,440.4L128,440.4L129,440.4L130,440.4L131,440.4L132,440.4L133,440.4L134,440.4L135,440.4L136,440.4L137,440.4L138,440.4L139,440.4L140,440.39L141,440.39L142,440.39L143,440.39L144,440.39L145,440.39L146,440.38L147,440.38L148,440.38L149,440.38L150,440.37L151,440.37L152,440.36L153,440.36L154,440.35L155,440.34L156,440.33L157,440.32L158,440.31L159,440.29L160,440.28L161,440.26L162,440.24L163,440.22L164,440.19L165,440.16L166,440.13L167,440.09L168,440.04L169,440L170,439.94L171,439.88L172,439.81L173,439.74L174,439.65L175,439.55L176,439.45L177,439.33L178,439.2L179,439.05L180,438.89L181,438.71L182,438.52L183,438.3L184,438.06L185,437.8L186,437.51L187,437.2L188,436.85L189,436.48L190,436.07L191,435.62L192,435.13L193,434.6L194,434.03L195,433.41L196,432.74L197,432.02L198,431.24L199,430.4L200,429.51L201,428.54L202,427.51L203,426.41L204,425.23L205,423.97L206,422.64L207,421.22L208,419.72L209,418.13L210,416.45L211,414.68L212,412.82L213,410.85L214,408.79L215,406.64L216,404.38L217,402.03L218,399.57L219,397.02L220,394.36L221,391.61L222,388.77L223,385.83L224,382.8L225,379.68L226,376.47L227,373.19L228,369.83L229,366.39L230,362.88L231,359.31L232,355.69L233,352.01L234,348.28L235,344.51L236,340.7L237,336.86L238,332.99L239,329.1L240,325.19L241,321.26L242,317.32L243,313.36L244,309.4L245,305.42L246,301.43L247,297.43L248,293.4L249,289.36L250,285.29L251,281.19L252,277.05L253,272.86L254,268.62L255,264.31L256,259.94L257,255.5L258,250.97L259,246.35L260,241.65L261,236.84L262,231.95L263,226.96L264,221.89L265,216.73L266,211.5L267,206.21L268,200.87L269,195.51L270,190.13L271,184.77L272,179.44L273,174.17L274,168.99L275,163.92L276,159L277,154.24L278,149.67L279,145.31L280,141.2L281,137.34L282,133.76L283,130.46L284,127.46L285,124.76L286,122.37L287,120.3L288,118.53L289,117.07L290,115.9L291,115.03L292,114.44L293,114.12L294,114.06L295,114.26L296,114.7L297,115.38L298,116.29L299,117.43L300,118.8L301,120.39L302,122.22L303,124.28L304,126.59L305,129.14L306,131.95L307,135.03L308,138.38L309,142.01L310,145.93L311,150.14L312,154.65L313,159.46L314,164.56L315,169.95L316,175.62L317,181.56L318,187.74L319,194.15L320,200.77L321,207.56L322,214.51L323,221.57L324,228.71L325,235.91L326,243.11L327,250.29L328,257.42L329,264.44L330,271.34L331,278.07L332,284.61L333,290.93L334,297.01L335,302.82L336,308.34L337,313.57L338,318.49L339,323.1L340,327.38L341,331.35L342,335L343,338.34L344,341.38L345,344.14L346,346.62L347,348.84L348,350.83L349,352.6L350,354.18L351,355.57L352,356.82L353,357.93L354,358.93L355,359.85L356,360.69L357,361.49L358,362.26L359,363.01L360,363.78L361,364.55L362,365.36L363,366.22L364,367.12L365,368.09L366,369.12L367,370.23L368,371.41L369,372.67L370,374.01L371,375.43L372,376.92L373,378.48L374,380.11L375,381.8L376,383.56L377,385.36L378,387.2L379,389.09L380,391L381,392.94L382,394.89L383,396.84L384,398.8L385,400.75L386,402.68L387,404.59L388,406.46L389,408.31L390,410.11L391,411.86L392,413.56L393,415.21L394,416.79L395,418.31L396,419.76L397,421.14L398,422.45L399,423.68L400,424.84L401,425.91L402,426.9L403,427.81L404,428.64L405,429.38L406,430.03L407,430.6L408,431.07L409,431.46L410,431.74L411,431.94L412,432.03L413,432.03L414,431.92L415,431.7L416,431.37L417,430.93L418,430.37L419,429.69L420,428.88L421,427.94L422,426.87L423,425.66L424,424.3L425,422.79L426,421.13L427,419.32L428,417.34L429,415.2L430,412.89L431,410.42L432,407.77L433,404.96L434,401.97L435,398.81L436,395.49L437,391.99L438,388.33L439,384.51L440,380.53L441,376.4L442,372.12L443,367.71L444,363.16L445,358.48L446,353.69L447,348.78L448,343.78L449,338.68L450,333.49L451,328.23L452,322.9L453,317.51L454,312.07L455,306.57L456,301.04L457,295.48L458,289.89L459,284.27L460,278.64L461,273L462,267.35L463,261.69L464,256.04L465,250.38L466,244.73L467,239.1L468,233.47L469,227.87L470,222.28L471,216.73L472,211.2L473,205.71L474,200.27L475,194.88L476,189.54L477,184.27L478,179.07L479,173.96L480,168.94L481,164.03L482,159.23L483,154.55L484,150.01L485,145.61L486,141.37L487,137.3L488,133.4L489,129.7L490,126.18L491,122.88L492,119.78L493,116.91L494,114.26L495,111.84L496,109.66L497,107.72L498,106.03L499,104.58L500,103.38L501,102.42L502,101.71L503,101.25L504,101.04L505,101.07L506,101.35L507,101.86L508,102.61L509,103.6L510,104.82L511,106.28L512,107.96L513,109.87L514,112L515,114.36L516,116.94L517,119.74L518,122.75L519,125.99L520,129.44L521,133.1L522,136.97L523,141.06L524,145.35L525,149.84L526,154.54L527,159.44L528,164.53L529,169.8L530,175.26L531,180.9L532,186.7L533,192.67L534,198.78L535,205.03L536,211.42L537,217.91L538,224.51L539,231.2L540,237.97L541,244.79L542,251.66L543,258.56L544,265.47L545,272.38L546,279.26L547,286.11L548,292.9L549,299.63L550,306.27L551,312.81L552,319.24L553,325.55L554,331.71L555,337.72L556,343.58L557,349.26L558,354.76L559,360.08L560,365.2L561,370.13L562,374.86L563,379.38L564,383.7L565,387.81L566,391.71L567,395.41L568,398.91L569,402.21L570,405.32L571,408.24L572,410.97L573,413.52L574,415.9L575,418.11L576,420.16L577,422.06L578,423.82L579,425.43L580,426.92L581,428.28L582,429.53L583,430.67L584,431.7L585,432.64L586,433.5L587,434.27L588,434.97L589,435.59L590,436.16L591,436.66L592,437.11L593,437.52L594,437.87L595,438.19L596,438.48L597,438.72L598,438.94L599,439.14L600,439.31L601,439.46L602,439.59L603,439.7L604,439.8L605,439.89L606,439.96L607,440.03L608,440.08L609,440.13L610,440.17L611,440.21L612,440.24L613,440.26L614,440.28L615,440.3L616,440.32L617,440.33L618,440.34L619,440.35L620,440.36L621,440.37L622,440.37L623,440.38L624,440.38L625,440.39L626,440.39L627,440.39L628,440.39L629,440.39L630,440.39L631,440.4L632,440.4L633,440.4L634,440.4L635,440.4L636,440.4L637,440.4L638,440.4L639,440.4L640,440.4L641,440.4L642,440.4L643,440.4L644,440.4L645,440.4L646,440.4L647,440.4L648,440.4L649,440.4L650,440.4L651,440.4L652,440.4L653,440.4L654,440.4L655,440.4L656,440.4" fill="none" stroke="#000" stroke-width="3.1" stroke-linejoin="round"/>
<path d="M176,441.2L177,441.2L178,441.2L179,441.2L180,441.2L181,441.2L182,441.2L183,441.2L184,441.2L185,441.2L186,441.2L187,441.2L188,441.2L189,441.2L190,441.2L191,441.2L192,441.2L193,441.2L194,441.2L195,441.2L196,441.2L197,441.2L198,441.2L199,441.2L200,441.2L201,441.2L202,441.2L203,441.2L204,441.2L205,441.2L206,441.2L207,441.2L208,441.2L209,441.2L210,441.2L211,441.2L212,441.2L213,441.2L214,441.2L215,441.2L216,441.2L217,441.2L218,441.2L219,441.2L220,441.2L221,441.2L222,441.2L223,441.19L224,441.19L225,441.19L226,441.19L227,441.19L228,441.18L229,441.18L230,441.17L231,441.17L232,441.16L233,441.15L234,441.15L235,441.13L236,441.12L237,441.1L238,441.09L239,441.06L240,441.04L241,441.01L242,440.97L243,440.93L244,440.88L245,440.82L246,440.75L247,440.68L248,440.59L249,440.49L250,440.37L251,440.23L252,440.08L253,439.91L254,439.71L255,439.48L256,439.23L257,438.94L258,438.61L259,438.25L260,437.84L261,437.39L262,436.89L263,436.33L264,435.71L265,435.02L266,434.27L267,433.44L268,432.54L269,431.55L270,430.47L271,429.31L272,428.04L273,426.68L274,425.21L275,423.63L276,421.94L277,420.14L278,418.22L279,416.19L280,414.04L281,411.77L282,409.39L283,406.89L284,404.29L285,401.58L286,398.76L287,395.86L288,392.86L289,389.79L290,386.65L291,383.45L292,380.2L293,376.91L294,373.6L295,370.29L296,366.98L297,363.69L298,360.44L299,357.24L300,354.12L301,351.07L302,348.13L303,345.3L304,342.61L305,340.06L306,337.66L307,335.44L308,333.4L309,331.55L310,329.9L311,328.46L312,327.22L313,326.21L314,325.4L315,324.82L316,324.44L317,324.28L318,324.32L319,324.56L320,324.98L321,325.59L322,326.36L323,327.28L324,328.34L325,329.53L326,330.83L327,332.21L328,333.68L329,335.2L330,336.77L331,338.37L332,339.98L333,341.59L334,343.19L335,344.75L336,346.28L337,347.76L338,349.17L339,350.52L340,351.8L341,353L342,354.13L343,355.17L344,356.13L345,357.02L346,357.82L347,358.56L348,359.23L349,359.85L350,360.41L351,360.93L352,361.42L353,361.88L354,362.33L355,362.78L356,363.23L357,363.7L358,364.19L359,364.72L360,365.3L361,365.92L362,366.61L363,367.36L364,368.19L365,369.09L366,370.06L367,371.12L368,372.27L369,373.49L370,374.8L371,376.19L372,377.66L373,379.21L374,380.82L375,382.5L376,384.24L377,386.04L378,387.88L379,389.76L380,391.67L381,393.6L382,395.56L383,397.52L384,399.48L385,401.43L386,403.37L387,405.29L388,407.18L389,409.04L390,410.85L391,412.62L392,414.33L393,415.99L394,417.58L395,419.11L396,420.58L397,421.96L398,423.28L399,424.52L400,425.67L401,426.75L402,427.74L403,428.66L404,429.48L405,430.22L406,430.87L407,431.44L408,431.91L409,432.3L410,432.59L411,432.79L412,432.9L413,432.91L414,432.82L415,432.63L416,432.33L417,431.93L418,431.42L419,430.8L420,430.06L421,429.2L422,428.22L423,427.12L424,425.88L425,424.51L426,423L427,421.36L428,419.57L429,417.64L430,415.56L431,413.33L432,410.96L433,408.44L434,405.77L435,402.96L436,400.01L437,396.92L438,393.7L439,390.35L440,386.89L441,383.31L442,379.64L443,375.87L444,372.03L445,368.12L446,364.15L447,360.15L448,356.12L449,352.09L450,348.06L451,344.05L452,340.09L453,336.17L454,332.33L455,328.57L456,324.91L457,321.36L458,317.94L459,314.65L460,311.51L461,308.53L462,305.71L463,303.06L464,300.59L465,298.29L466,296.17L467,294.23L468,292.47L469,290.87L470,289.45L471,288.19L472,287.08L473,286.11L474,285.29L475,284.58L476,283.99L477,283.5L478,283.09L479,282.76L480,282.5L481,282.28L482,282.1L483,281.94L484,281.79L485,281.65L486,281.49L487,281.31L488,281.11L489,280.86L490,280.56L491,280.21L492,279.8L493,279.32L494,278.77L495,278.14L496,277.43L497,276.65L498,275.78L499,274.83L500,273.8L501,272.69L502,271.5L503,270.23L504,268.9L505,267.49L506,266.02L507,264.5L508,262.93L509,261.33L510,259.69L511,258.03L512,256.37L513,254.71L514,253.07L515,251.47L516,249.91L517,248.42L518,247.02L519,245.71L520,244.53L521,243.48L522,242.59L523,241.88L524,241.35L525,241.04L526,240.96L527,241.12L528,241.53L529,242.22L530,243.19L531,244.45L532,246.01L533,247.87L534,250.04L535,252.51L536,255.28L537,258.34L538,261.7L539,265.32L540,269.22L541,273.36L542,277.73L543,282.31L544,287.08L545,292.01L546,297.09L547,302.29L548,307.59L549,312.95L550,318.35L551,323.78L552,329.19L553,334.58L554,339.92L555,345.19L556,350.36L557,355.43L558,360.37L559,365.17L560,369.82L561,374.31L562,378.63L563,382.77L564,386.73L565,390.51L566,394.1L567,397.5L568,400.71L569,403.74L570,406.59L571,409.26L572,411.76L573,414.1L574,416.28L575,418.3L576,420.19L577,421.93L578,423.54L579,425.04L580,426.41L581,427.68L582,428.85L583,429.92L584,430.91L585,431.81L586,432.64L587,433.4L588,434.1L589,434.73L590,435.31L591,435.85L592,436.33L593,436.78L594,437.18L595,437.55L596,437.89L597,438.2L598,438.48L599,438.74L600,438.97L601,439.18L602,439.38L603,439.55L604,439.71L605,439.86L606,439.99" fill="none" stroke="#7e7e16" stroke-width="2.4" stroke-linejoin="round"/>
<path d="M28,441.2L29,441.2L30,441.2L31,441.2L32,441.2L33,441.2L34,441.2L35,441.2L36,441.2L37,441.2L38,441.2L39,441.2L40,441.2L41,441.2L42,441.2L43,441.2L44,441.2L45,441.2L46,441.2L47,441.2L48,441.2L49,441.2L50,441.2L51,441.2L52,441.2L53,441.2L54,441.2L55,441.2L56,441.2L57,441.2L58,441.2L59,441.2L60,441.2L61,441.2L62,441.2L63,441.2L64,441.2L65,441.2L66,441.2L67,441.2L68,441.2L69,441.2L70,441.2L71,441.2L72,441.2L73,441.2L74,441.2L75,441.2L76,441.2L77,441.2L78,441.2L79,441.2L80,441.2L81,441.2L82,441.2L83,441.2L84,441.2L85,441.2L86,441.2L87,441.2L88,441.2L89,441.2L90,441.2L91,441.2L92,441.2L93,441.2L94,441.2L95,441.2L96,441.2L97,441.2L98,441.2L99,441.2L100,441.2L101,441.2L102,441.2L103,441.2L104,441.2L105,441.2L106,441.2L107,441.2L108,441.2L109,441.2L110,441.2L111,441.2L112,441.2L113,441.2L114,441.2L115,441.2L116,441.2L117,441.2L118,441.2L119,441.2L120,441.2L121,441.2L122,441.2L123,441.2L124,441.2L125,441.2L126,441.2L127,441.2L128,441.2L129,441.2L130,441.2L131,441.2L132,441.2L133,441.2L134,441.2L135,441.2L136,441.2L137,441.2L138,441.2L139,441.2L140,441.2L141,441.2L142,441.19L143,441.19L144,441.19L145,441.19L146,441.19L147,441.19L148,441.19L149,441.18L150,441.18L151,441.18L152,441.17L153,441.17L154,441.16L155,441.16L156,441.15L157,441.14L158,441.13L159,441.12L160,441.1L161,441.09L162,441.07L163,441.05L164,441.03L165,441L166,440.97L167,440.94L168,440.9L169,440.86L170,440.81L171,440.76L172,440.69L173,440.62L174,440.55L175,440.46L176,440.36L177,440.25L178,440.13L179,439.99L180,439.84L181,439.67L182,439.48L183,439.27L184,439.04L185,438.79L186,438.51L187,438.2L188,437.86L189,437.49L190,437.08L191,436.64L192,436.16L193,435.63L194,435.06L195,434.44L196,433.77L197,433.05L198,432.27L199,431.42L200,430.52L201,429.54L202,428.5L203,427.39L204,426.2L205,424.93L206,423.57L207,422.14L208,420.62L209,419.01L210,417.31L211,415.51L212,413.62L213,411.64L214,409.56L215,407.38L216,405.1L217,402.73L218,400.25L219,397.68L220,395.01L221,392.25L222,389.39L223,386.44L224,383.41L225,380.28L226,377.08L227,373.79L228,370.43L229,367L230,363.5L231,359.93L232,356.31L233,352.63L234,348.91L235,345.14L236,341.33L237,337.49L238,333.62L239,329.72L240,325.8L241,321.87L242,317.92L243,313.96L244,310L245,306.03L246,302.06L247,298.09L248,294.13L249,290.17L250,286.21L251,282.26L252,278.33L253,274.4L254,270.47L255,266.56L256,262.66L257,258.77L258,254.9L259,251.03L260,247.19L261,243.36L262,239.55L263,235.77L264,232.02L265,228.3L266,224.62L267,220.99L268,217.42L269,213.91L270,210.48L271,207.13L272,203.88L273,200.75L274,197.74L275,194.87L276,192.16L277,189.62L278,187.26L279,185.12L280,183.19L281,181.51L282,180.08L283,178.92L284,178.05L285,177.48L286,177.22L287,177.29L288,177.7L289,178.46L290,179.57L291,181.04L292,182.87L293,185.06L294,187.63L295,190.55L296,193.83L297,197.46L298,201.42L299,205.72L300,210.32L301,215.23L302,220.41L303,225.86L304,231.55L305,237.45L306,243.55L307,249.82L308,256.24L309,262.78L310,269.41L311,276.11L312,282.86L313,289.62L314,296.38L315,303.1L316,309.78L317,316.37L318,322.88L319,329.27L320,335.52L321,341.63L322,347.58L323,353.35L324,358.93L325,364.31L326,369.49L327,374.46L328,379.21L329,383.75L330,388.06L331,392.15L332,396.02L333,399.67L334,403.11L335,406.33L336,409.35L337,412.17L338,414.79L339,417.23L340,419.49L341,421.58L342,423.5L343,425.27L344,426.89L345,428.38L346,429.73L347,430.97L348,432.09L349,433.1L350,434.02L351,434.85L352,435.59L353,436.26L354,436.85L355,437.39L356,437.86L357,438.28L358,438.66L359,438.99L360,439.28L361,439.54L362,439.76L363,439.96L364,440.13L365,440.28L366,440.41L367,440.53L368,440.63L369,440.71L370,440.79L371,440.85L372,440.9L373,440.95L374,440.99L375,441.02L376,441.05L377,441.08L378,441.1L379,441.11L380,441.13L381,441.14L382,441.15L383,441.16L384,441.17L385,441.17L386,441.18L387,441.18L388,441.18L389,441.19L390,441.19L391,441.19L392,441.19L393,441.19L394,441.19L395,441.19L396,441.19L397,441.19L398,441.19L399,441.19L400,441.19L401,441.19L402,441.19L403,441.19L404,441.19L405,441.18L406,441.18L407,441.18L408,441.17L409,441.16L410,441.16L411,441.15L412,441.14L413,441.13L414,441.11L415,441.09L416,441.07L417,441.05L418,441.02L419,440.99L420,440.96L421,440.91L422,440.86L423,440.8L424,440.74L425,440.66L426,440.57L427,440.47L428,440.35L429,440.22L430,440.07L431,439.89L432,439.69L433,439.47L434,439.22L435,438.94L436,438.62L437,438.26L438,437.86L439,437.41L440,436.91L441,436.36L442,435.74L443,435.06L444,434.31L445,433.48L446,432.57L447,431.57L448,430.48L449,429.29L450,427.99L451,426.59L452,425.06L453,423.42L454,421.64L455,419.74L456,417.69L457,415.51L458,413.17L459,410.69L460,408.06L461,405.27L462,402.33L463,399.23L464,395.98L465,392.58L466,389.02L467,385.33L468,381.49L469,377.52L470,373.42L471,369.21L472,364.89L473,360.48L474,355.98L475,351.43L476,346.82L477,342.17L478,337.52L479,332.86L480,328.23L481,323.63L482,319.11L483,314.66L484,310.33L485,306.12L486,302.06L487,298.17L488,294.48L489,290.99L490,287.74L491,284.74L492,282L493,279.55L494,277.4L495,275.56L496,274.03L497,272.84L498,271.99L499,271.48L500,271.32L501,271.5L502,272.03L503,272.91L504,274.12L505,275.66L506,277.53L507,279.7L508,282.17L509,284.92L510,287.94L511,291.21L512,294.7L513,298.41L514,302.31L515,306.38L516,310.6L517,314.94L518,319.39L519,323.92L520,328.52L521,333.15L522,337.81L523,342.47L524,347.11L525,351.71L526,356.27L527,360.76L528,365.16L529,369.48L530,373.68L531,377.77L532,381.73L533,385.56L534,389.25L535,392.8L536,396.19L537,399.43L538,402.52L539,405.45L540,408.23L541,410.85L542,413.33L543,415.65L544,417.83L545,419.86L546,421.76L547,423.53L548,425.16L549,426.68L550,428.08L551,429.37L552,430.55L553,431.64L554,432.63L555,433.53L556,434.36L557,435.1L558,435.78L559,436.39L560,436.94L561,437.44L562,437.88L563,438.28L564,438.64L565,438.96L566,439.24L567,439.49L568,439.71L569,439.9L570,440.08L571,440.23L572,440.36L573,440.47L574,440.58L575,440.66L576,440.74L577,440.81L578,440.87L579,440.91L580,440.96L581,440.99L582,441.03L583,441.05L584,441.08L585,441.1L586,441.11L587,441.13L588,441.14L589,441.15L590,441.16L591,441.16L592,441.17L593,441.18L594,441.18L595,441.18L596,441.19L597,441.19L598,441.19L599,441.19L600,441.19L601,441.2L602,441.2L603,441.2L604,441.2L605,441.2L606,441.2L607,441.2L608,441.2L609,441.2L610,441.2L611,441.2L612,441.2L613,441.2L614,441.2L615,441.2L616,441.2L617,441.2L618,441.2L619,441.2L620,441.2L621,441.2L622,441.2L623,441.2L624,441.2L625,441.2L626,441.2L627,441.2L628,441.2L629,441.2L630,441.2L631,441.2L632,441.2L633,441.2L634,441.2L635,441.2L636,441.2L637,441.2L638,441.2L639,441.2L640,441.2L641,441.2L642,441.2L643,441.2L644,441.2L645,441.2L646,441.2L647,441.2L648,441.2L649,441.2L650,441.2L651,441.2L652,441.2L653,441.2L654,441.2L655,441.2L656,441.2" fill="none" stroke="#868686" stroke-width="2.4" stroke-linejoin="round"/>
<path d="M27.7,452.6V12.9H656.4V452.6" fill="none" stroke="#000" stroke-width="1.6"/>
<path d="M27,443.6H657" stroke="#000" stroke-width="1.6"/>
<path d="M237.27,443V452.6" stroke="#000" stroke-width="1.6"/>
<path d="M446.83,443V452.6" stroke="#000" stroke-width="1.6"/>
<path d="M132.49,443V448.6" stroke="#000" stroke-width="1.6"/>
<path d="M342.05,443V448.6" stroke="#000" stroke-width="1.6"/>
<path d="M551.62,443V448.6" stroke="#000" stroke-width="1.6"/>
<text transform="translate(27.7,481) scale(0.94,1)" font-size="31" text-anchor="middle">0.15</text>
<text transform="translate(237.27,481) scale(0.94,1)" font-size="31" text-anchor="middle">0.10</text>
<text transform="translate(446.83,481) scale(0.94,1)" font-size="31" text-anchor="middle">0.05</text>
<text transform="translate(656.4,481) scale(0.94,1)" font-size="31" text-anchor="middle">0.00</text>
<text x="119.9" y="526.1" font-size="29">N(E</text>
<text x="169.5" y="535.7" font-size="17">F</text>
<text x="179.6" y="526.1" font-size="29">(</text>
<text x="189.6" y="526.1" font-size="35">P|s&gt;</text>
<text x="260.6" y="526.1" font-size="29">))</text>
<text x="286.9" y="526.1" font-size="28.8">(number of states/eV)</text>
<text x="548.5" y="58.7" font-size="35" letter-spacing="1">(a)</text>
<g clip-path="url(#slab)">
<rect x="64" y="70" width="112" height="306" fill="url(#slabbg)"/>
<circle cx="100.5" cy="66" r="12.0" fill="url(#bP)"/>
<circle cx="101.7" cy="64.8" r="1.3" fill="#f8f8d0" opacity="0.8"/>
<circle cx="163" cy="66" r="12.0" fill="url(#bP)"/>
<circle cx="164.2" cy="64.8" r="1.3" fill="#f8f8d0" opacity="0.8"/>
<circle cx="126" cy="81" r="12.0" fill="url(#bL)"/>
<circle cx="127.2" cy="79.8" r="1.3" fill="#f0ec50" opacity="0.8"/>
<circle cx="148" cy="84" r="12.0" fill="url(#bO)"/>
<circle cx="149.2" cy="82.8" r="1.3" fill="#c8c040" opacity="0.8"/>
<circle cx="85.8" cy="85" r="12.0" fill="url(#bO)"/>
<circle cx="87" cy="83.8" r="1.3" fill="#c8c040" opacity="0.8"/>
<circle cx="117.4" cy="102" r="12.0" fill="url(#bO)"/>
<circle cx="118.6" cy="100.8" r="1.3" fill="#c8c040" opacity="0.8"/>
<circle cx="156" cy="106" r="12.0" fill="url(#bL)"/>
<circle cx="157.2" cy="104.8" r="1.3" fill="#f0ec50" opacity="0.8"/>
<circle cx="94" cy="107" r="12.0" fill="url(#bL)"/>
<circle cx="95.2" cy="105.8" r="1.3" fill="#f0ec50" opacity="0.8"/>
<circle cx="131" cy="121" r="12.0" fill="url(#bL)"/>
<circle cx="132.2" cy="119.8" r="1.3" fill="#f0ec50" opacity="0.8"/>
<circle cx="94.6" cy="136" r="12.0" fill="url(#bL)"/>
<circle cx="95.8" cy="134.8" r="1.3" fill="#f0ec50" opacity="0.8"/>
<circle cx="156.5" cy="136" r="12.0" fill="url(#bL)"/>
<circle cx="157.7" cy="134.8" r="1.3" fill="#f0ec50" opacity="0.8"/>
<circle cx="116.5" cy="140" r="12.0" fill="url(#bO)"/>
<circle cx="117.7" cy="138.8" r="1.3" fill="#c8c040" opacity="0.8"/>
<circle cx="86" cy="159" r="11.1" fill="url(#bC)"/>
<circle cx="87.2" cy="157.8" r="1.3" fill="#fffff0" opacity="0.8"/>
<circle cx="147.6" cy="159" r="11.1" fill="url(#bC)"/>
<circle cx="148.8" cy="157.8" r="1.3" fill="#fffff0" opacity="0.8"/>
<circle cx="126" cy="162" r="12.0" fill="url(#bR)"/>
<circle cx="127.2" cy="160.8" r="1.3" fill="#f8c080" opacity="0.8"/>
<circle cx="102" cy="176.5" r="12.0" fill="url(#bR)"/>
<circle cx="103.2" cy="175.3" r="1.3" fill="#f8c080" opacity="0.8"/>
<circle cx="163" cy="176.6" r="12.0" fill="url(#bR)"/>
<circle cx="164.2" cy="175.4" r="1.3" fill="#f8c080" opacity="0.8"/>
<circle cx="126" cy="193.6" r="12.0" fill="url(#bR)"/>
<circle cx="127.2" cy="192.4" r="1.3" fill="#f8c080" opacity="0.8"/>
<circle cx="86" cy="195.5" r="11.1" fill="url(#bC)"/>
<circle cx="87.2" cy="194.3" r="1.3" fill="#fffff0" opacity="0.8"/>
<circle cx="147.6" cy="196.6" r="11.1" fill="url(#bC)"/>
<circle cx="148.8" cy="195.4" r="1.3" fill="#fffff0" opacity="0.8"/>
<circle cx="115.5" cy="214.3" r="11.1" fill="url(#bC)"/>
<circle cx="116.7" cy="213.1" r="1.3" fill="#fffff0" opacity="0.8"/>
<circle cx="94.6" cy="217.2" r="12.0" fill="url(#bR)"/>
<circle cx="95.8" cy="216" r="1.3" fill="#f8c080" opacity="0.8"/>
<circle cx="156.5" cy="217.2" r="12.0" fill="url(#bR)"/>
<circle cx="157.7" cy="216" r="1.3" fill="#f8c080" opacity="0.8"/>
<circle cx="131" cy="234" r="12.0" fill="url(#bR)"/>
<circle cx="132.2" cy="232.8" r="1.3" fill="#f8c080" opacity="0.8"/>
<circle cx="94.6" cy="249" r="12.0" fill="url(#bR)"/>
<circle cx="95.8" cy="247.8" r="1.3" fill="#f8c080" opacity="0.8"/>
<circle cx="156.5" cy="250.7" r="12.0" fill="url(#bR)"/>
<circle cx="157.7" cy="249.5" r="1.3" fill="#f8c080" opacity="0.8"/>
<circle cx="115.5" cy="252" r="11.1" fill="url(#bC)"/>
<circle cx="116.7" cy="250.8" r="1.3" fill="#fffff0" opacity="0.8"/>
<circle cx="85.8" cy="270" r="11.1" fill="url(#bC)"/>
<circle cx="87" cy="268.8" r="1.3" fill="#fffff0" opacity="0.8"/>
<circle cx="147.6" cy="270" r="11.1" fill="url(#bC)"/>
<circle cx="148.8" cy="268.8" r="1.3" fill="#fffff0" opacity="0.8"/>
<circle cx="126.2" cy="272.8" r="12.0" fill="url(#bR)"/>
<circle cx="127.4" cy="271.6" r="1.3" fill="#f8c080" opacity="0.8"/>
<circle cx="100.5" cy="289" r="12.0" fill="url(#bR)"/>
<circle cx="101.7" cy="287.8" r="1.3" fill="#f8c080" opacity="0.8"/>
<circle cx="160.9" cy="289" r="12.0" fill="url(#bR)"/>
<circle cx="162.1" cy="287.8" r="1.3" fill="#f8c080" opacity="0.8"/>
<circle cx="125" cy="304" r="12.0" fill="url(#bL)"/>
<circle cx="126.2" cy="302.8" r="1.3" fill="#f0ec50" opacity="0.8"/>
<circle cx="85" cy="306" r="12.0" fill="url(#bO)"/>
<circle cx="86.2" cy="304.8" r="1.3" fill="#c8c040" opacity="0.8"/>
<circle cx="147" cy="308" r="12.0" fill="url(#bO)"/>
<circle cx="148.2" cy="306.8" r="1.3" fill="#c8c040" opacity="0.8"/>
<circle cx="115.5" cy="326" r="12.0" fill="url(#bO)"/>
<circle cx="116.7" cy="324.8" r="1.3" fill="#c8c040" opacity="0.8"/>
<circle cx="94" cy="328.4" r="12.0" fill="url(#bL)"/>
<circle cx="95.2" cy="327.2" r="1.3" fill="#f0ec50" opacity="0.8"/>
<circle cx="155.8" cy="328.4" r="12.0" fill="url(#bL)"/>
<circle cx="157" cy="327.2" r="1.3" fill="#f0ec50" opacity="0.8"/>
<circle cx="130.5" cy="345.5" r="12.0" fill="url(#bL)"/>
<circle cx="131.7" cy="344.3" r="1.3" fill="#f0ec50" opacity="0.8"/>
<circle cx="156.9" cy="360" r="12.0" fill="url(#bL)"/>
<circle cx="158.1" cy="358.8" r="1.3" fill="#f0ec50" opacity="0.8"/>
<circle cx="94.6" cy="360.5" r="12.0" fill="url(#bL)"/>
<circle cx="95.8" cy="359.3" r="1.3" fill="#f0ec50" opacity="0.8"/>
<circle cx="116.3" cy="363" r="12.0" fill="url(#bO)"/>
<circle cx="117.5" cy="361.8" r="1.3" fill="#c8c040" opacity="0.8"/>
<circle cx="85.8" cy="383.5" r="12.0" fill="url(#bO)"/>
<circle cx="87" cy="382.3" r="1.3" fill="#c8c040" opacity="0.8"/>
<circle cx="148.5" cy="384.3" r="12.0" fill="url(#bO)"/>
<circle cx="149.7" cy="383.1" r="1.3" fill="#c8c040" opacity="0.8"/>
<circle cx="117.5" cy="65" r="12.3" fill="url(#bD)"/>
<circle cx="118.7" cy="63.8" r="1.3" fill="#c8c040" opacity="0.8"/>
<circle cx="179.5" cy="65" r="12.3" fill="url(#bD)"/>
<circle cx="180.7" cy="63.8" r="1.3" fill="#c8c040" opacity="0.8"/>
<circle cx="79" cy="70" r="12.3" fill="url(#bY)"/>
<circle cx="80.2" cy="68.8" r="1.3" fill="#f0ec50" opacity="0.8"/>
<circle cx="141.8" cy="70" r="12.3" fill="url(#bY)"/>
<circle cx="143" cy="68.8" r="1.3" fill="#f0ec50" opacity="0.8"/>
<circle cx="62" cy="81" r="12.3" fill="url(#bY)"/>
<circle cx="63.2" cy="79.8" r="1.3" fill="#f0ec50" opacity="0.8"/>
<circle cx="105" cy="88" r="12.3" fill="url(#bY)"/>
<circle cx="106.2" cy="86.8" r="1.3" fill="#f0ec50" opacity="0.8"/>
<circle cx="167" cy="88" r="12.3" fill="url(#bY)"/>
<circle cx="168.2" cy="86.8" r="1.3" fill="#f0ec50" opacity="0.8"/>
<circle cx="134.4" cy="100" r="12.3" fill="url(#bY)"/>
<circle cx="135.6" cy="98.8" r="1.3" fill="#f0ec50" opacity="0.8"/>
<circle cx="72" cy="100.5" r="12.3" fill="url(#bY)"/>
<circle cx="73.2" cy="99.3" r="1.3" fill="#f0ec50" opacity="0.8"/>
<circle cx="179.4" cy="102" r="12.3" fill="url(#bO)"/>
<circle cx="180.6" cy="100.8" r="1.3" fill="#c8c040" opacity="0.8"/>
<circle cx="172.5" cy="120.5" r="12.3" fill="url(#bY)"/>
<circle cx="173.7" cy="119.3" r="1.3" fill="#f0ec50" opacity="0.8"/>
<circle cx="110.5" cy="121.5" r="12.3" fill="url(#bY)"/>
<circle cx="111.7" cy="120.3" r="1.3" fill="#f0ec50" opacity="0.8"/>
<circle cx="147.6" cy="121.5" r="12.3" fill="url(#bD)"/>
<circle cx="148.8" cy="120.3" r="1.3" fill="#c8c040" opacity="0.8"/>
<circle cx="66.5" cy="122" r="12.3" fill="url(#bY)"/>
<circle cx="67.7" cy="120.8" r="1.3" fill="#f0ec50" opacity="0.8"/>
<circle cx="86" cy="122" r="12.3" fill="url(#bD)"/>
<circle cx="87.2" cy="120.8" r="1.3" fill="#c8c040" opacity="0.8"/>
<circle cx="179.4" cy="140" r="12.3" fill="url(#bO)"/>
<circle cx="180.6" cy="138.8" r="1.3" fill="#c8c040" opacity="0.8"/>
<circle cx="134.4" cy="143" r="12.3" fill="url(#bY)"/>
<circle cx="135.6" cy="141.8" r="1.3" fill="#f0ec50" opacity="0.8"/>
<circle cx="72.5" cy="144" r="12.3" fill="url(#bY)"/>
<circle cx="73.7" cy="142.8" r="1.3" fill="#f0ec50" opacity="0.8"/>
<circle cx="104.5" cy="154.3" r="12.3" fill="url(#bR)"/>
<circle cx="105.7" cy="153.1" r="1.3" fill="#f8c080" opacity="0.8"/>
<circle cx="166.8" cy="154.3" r="12.3" fill="url(#bR)"/>
<circle cx="168" cy="153.1" r="1.3" fill="#f8c080" opacity="0.8"/>
<circle cx="62" cy="162" r="12.3" fill="url(#bR)"/>
<circle cx="63.2" cy="160.8" r="1.3" fill="#f8c080" opacity="0.8"/>
<circle cx="141.7" cy="177" r="12.3" fill="url(#bR)"/>
<circle cx="142.9" cy="175.8" r="1.3" fill="#f8c080" opacity="0.8"/>
<circle cx="116" cy="177.2" r="11.3" fill="url(#bC)"/>
<circle cx="117.2" cy="176" r="1.3" fill="#fffff0" opacity="0.8"/>
<circle cx="79" cy="177.5" r="12.3" fill="url(#bR)"/>
<circle cx="80.2" cy="176.3" r="1.3" fill="#f8c080" opacity="0.8"/>
<circle cx="179" cy="177.5" r="11.3" fill="url(#bC)"/>
<circle cx="180.2" cy="176.3" r="1.3" fill="#fffff0" opacity="0.8"/>
<circle cx="63" cy="193" r="12.3" fill="url(#bR)"/>
<circle cx="64.2" cy="191.8" r="1.3" fill="#f8c080" opacity="0.8"/>
<circle cx="166.8" cy="198.8" r="12.3" fill="url(#bR)"/>
<circle cx="168" cy="197.6" r="1.3" fill="#f8c080" opacity="0.8"/>
<circle cx="105" cy="199" r="12.3" fill="url(#bR)"/>
<circle cx="106.2" cy="197.8" r="1.3" fill="#f8c080" opacity="0.8"/>
<circle cx="72.5" cy="211" r="12.3" fill="url(#bR)"/>
<circle cx="73.7" cy="209.8" r="1.3" fill="#f8c080" opacity="0.8"/>
<circle cx="135.8" cy="211.3" r="12.3" fill="url(#bR)"/>
<circle cx="137" cy="210.1" r="1.3" fill="#f8c080" opacity="0.8"/>
<circle cx="179.4" cy="214.3" r="11.3" fill="url(#bC)"/>
<circle cx="180.6" cy="213.1" r="1.3" fill="#fffff0" opacity="0.8"/>
<circle cx="66.5" cy="234" r="12.3" fill="url(#bR)"/>
<circle cx="67.7" cy="232.8" r="1.3" fill="#f8c080" opacity="0.8"/>
<circle cx="85.4" cy="234" r="11.3" fill="url(#bC)"/>
<circle cx="86.6" cy="232.8" r="1.3" fill="#fffff0" opacity="0.8"/>
<circle cx="110" cy="234.5" r="12.3" fill="url(#bR)"/>
<circle cx="111.2" cy="233.3" r="1.3" fill="#f8c080" opacity="0.8"/>
<circle cx="147.6" cy="235" r="11.3" fill="url(#bC)"/>
<circle cx="148.8" cy="233.8" r="1.3" fill="#fffff0" opacity="0.8"/>
<circle cx="172.7" cy="235" r="12.3" fill="url(#bR)"/>
<circle cx="173.9" cy="233.8" r="1.3" fill="#f8c080" opacity="0.8"/>
<circle cx="179.4" cy="252" r="11.3" fill="url(#bC)"/>
<circle cx="180.6" cy="250.8" r="1.3" fill="#fffff0" opacity="0.8"/>
<circle cx="72.5" cy="255" r="12.3" fill="url(#bR)"/>
<circle cx="73.7" cy="253.8" r="1.3" fill="#f8c080" opacity="0.8"/>
<circle cx="134.4" cy="255.8" r="12.3" fill="url(#bR)"/>
<circle cx="135.6" cy="254.6" r="1.3" fill="#f8c080" opacity="0.8"/>
<circle cx="166.8" cy="267.6" r="12.3" fill="url(#bR)"/>
<circle cx="168" cy="266.4" r="1.3" fill="#f8c080" opacity="0.8"/>
<circle cx="105" cy="268" r="12.3" fill="url(#bR)"/>
<circle cx="106.2" cy="266.8" r="1.3" fill="#f8c080" opacity="0.8"/>
<circle cx="62" cy="274" r="12.3" fill="url(#bR)"/>
<circle cx="63.2" cy="272.8" r="1.3" fill="#f8c080" opacity="0.8"/>
<circle cx="116" cy="290.5" r="11.3" fill="url(#bC)"/>
<circle cx="117.2" cy="289.3" r="1.3" fill="#fffff0" opacity="0.8"/>
<circle cx="141.7" cy="290.5" r="12.3" fill="url(#bR)"/>
<circle cx="142.9" cy="289.3" r="1.3" fill="#f8c080" opacity="0.8"/>
<circle cx="179.4" cy="290.5" r="11.3" fill="url(#bC)"/>
<circle cx="180.6" cy="289.3" r="1.3" fill="#fffff0" opacity="0.8"/>
<circle cx="79" cy="291" r="12.3" fill="url(#bR)"/>
<circle cx="80.2" cy="289.8" r="1.3" fill="#f8c080" opacity="0.8"/>
<circle cx="62" cy="304" r="12.3" fill="url(#bY)"/>
<circle cx="63.2" cy="302.8" r="1.3" fill="#f0ec50" opacity="0.8"/>
<circle cx="105" cy="309" r="12.3" fill="url(#bY)"/>
<circle cx="106.2" cy="307.8" r="1.3" fill="#f0ec50" opacity="0.8"/>
<circle cx="166.8" cy="310" r="12.3" fill="url(#bY)"/>
<circle cx="168" cy="308.8" r="1.3" fill="#f0ec50" opacity="0.8"/>
<circle cx="72" cy="324" r="12.3" fill="url(#bY)"/>
<circle cx="73.2" cy="322.8" r="1.3" fill="#f0ec50" opacity="0.8"/>
<circle cx="133.6" cy="324" r="12.3" fill="url(#bY)"/>
<circle cx="134.8" cy="322.8" r="1.3" fill="#f0ec50" opacity="0.8"/>
<circle cx="178.6" cy="326.2" r="12.3" fill="url(#bO)"/>
<circle cx="179.8" cy="325" r="1.3" fill="#c8c040" opacity="0.8"/>
<circle cx="110.1" cy="345" r="12.3" fill="url(#bY)"/>
<circle cx="111.3" cy="343.8" r="1.3" fill="#f0ec50" opacity="0.8"/>
<circle cx="172.7" cy="345" r="12.3" fill="url(#bY)"/>
<circle cx="173.9" cy="343.8" r="1.3" fill="#f0ec50" opacity="0.8"/>
<circle cx="85" cy="346" r="12.3" fill="url(#bD)"/>
<circle cx="86.2" cy="344.8" r="1.3" fill="#c8c040" opacity="0.8"/>
<circle cx="147.4" cy="346" r="12.3" fill="url(#bD)"/>
<circle cx="148.6" cy="344.8" r="1.3" fill="#c8c040" opacity="0.8"/>
<circle cx="65.8" cy="346.5" r="12.3" fill="url(#bY)"/>
<circle cx="67" cy="345.3" r="1.3" fill="#f0ec50" opacity="0.8"/>
<circle cx="179" cy="364" r="12.3" fill="url(#bO)"/>
<circle cx="180.2" cy="362.8" r="1.3" fill="#c8c040" opacity="0.8"/>
<circle cx="135.5" cy="365.5" r="12.3" fill="url(#bY)"/>
<circle cx="136.7" cy="364.3" r="1.3" fill="#f0ec50" opacity="0.8"/>
<circle cx="73.6" cy="366" r="12.3" fill="url(#bY)"/>
<circle cx="74.8" cy="364.8" r="1.3" fill="#f0ec50" opacity="0.8"/>
<circle cx="103.5" cy="378.4" r="12.3" fill="url(#bY)"/>
<circle cx="104.7" cy="377.2" r="1.3" fill="#f0ec50" opacity="0.8"/>
<circle cx="166.2" cy="378.4" r="12.3" fill="url(#bY)"/>
<circle cx="167.4" cy="377.2" r="1.3" fill="#f0ec50" opacity="0.8"/>
<circle cx="63.6" cy="385.8" r="12.3" fill="url(#bY)"/>
<circle cx="64.8" cy="384.6" r="1.3" fill="#f0ec50" opacity="0.8"/>
<circle cx="125.6" cy="386.5" r="12.3" fill="url(#bY)"/>
<circle cx="126.8" cy="385.3" r="1.3" fill="#f0ec50" opacity="0.8"/>
</g>
<text x="86.4" y="47.9" font-family="Liberation Serif, serif" font-size="27.2" letter-spacing="1.3">1010</text>
<rect x="117.3" y="25.3" width="11" height="1.6" fill="#000"/>
<g>
<text x="207.5" y="64.3" font-size="15" font-weight="bold" fill="#d4d4d4" stroke="#d4d4d4" stroke-width="0.8">Z</text>
<text x="208" y="114.5" font-size="15" font-weight="bold" fill="#d4d4d4" stroke="#d4d4d4" stroke-width="0.8">X</text>
<text x="258.5" y="114.5" font-size="15" font-weight="bold" fill="#d4d4d4" stroke="#d4d4d4" stroke-width="0.8">Y</text>
<path d="M216.8,108.8V73" stroke="#4060c4" stroke-width="1.6"/>
<path d="M216.8,67.6L213.6,75.6L216.8,74.2L220,75.6Z" fill="#4060c4"/>
<path d="M217,108.8H252" stroke="#e8a000" stroke-width="1.8"/>
<path d="M258,108.8L250,105.4L251.5,108.8L250,112.2Z" fill="#e8a000"/>
<circle cx="217.1" cy="108.8" r="2.6" fill="#e02020"/>
</g>
<path d="M748.5,452.6V11.7H1331.9V452.6" fill="none" stroke="#000" stroke-width="1.6"/>
<path d="M739.2,444.1H1332.5" stroke="#000" stroke-width="1.6"/>
<path d="M739.2,336.03H748.5" stroke="#000" stroke-width="1.6"/>
<path d="M739.2,227.95H748.5" stroke="#000" stroke-width="1.6"/>
<path d="M739.2,119.88H748.5" stroke="#000" stroke-width="1.6"/>
<path d="M739.2,11.8H748.5" stroke="#000" stroke-width="1.6"/>
<path d="M744,390.06H748.5" stroke="#000" stroke-width="1.6"/>
<path d="M744,281.99H748.5" stroke="#000" stroke-width="1.6"/>
<path d="M744,173.91H748.5" stroke="#000" stroke-width="1.6"/>
<path d="M744,65.84H748.5" stroke="#000" stroke-width="1.6"/>
<path d="M845.6,443.5V452.6" stroke="#000" stroke-width="1.6"/>
<path d="M942.85,443.5V452.6" stroke="#000" stroke-width="1.6"/>
<path d="M1040.1,443.5V452.6" stroke="#000" stroke-width="1.6"/>
<path d="M1137.35,443.5V452.6" stroke="#000" stroke-width="1.6"/>
<path d="M1234.6,443.5V452.6" stroke="#000" stroke-width="1.6"/>
<path d="M796.97,443.5V448.8" stroke="#000" stroke-width="1.6"/>
<path d="M894.22,443.5V448.8" stroke="#000" stroke-width="1.6"/>
<path d="M991.47,443.5V448.8" stroke="#000" stroke-width="1.6"/>
<path d="M1088.72,443.5V448.8" stroke="#000" stroke-width="1.6"/>
<path d="M1185.97,443.5V448.8" stroke="#000" stroke-width="1.6"/>
<path d="M1283.22,443.5V448.8" stroke="#000" stroke-width="1.6"/>
<text transform="translate(734.3,454) scale(0.94,1)" font-size="30.6" text-anchor="end">0.00</text>
<text transform="translate(734.3,345.93) scale(0.94,1)" font-size="30.6" text-anchor="end">0.05</text>
<text transform="translate(734.3,237.85) scale(0.94,1)" font-size="30.6" text-anchor="end">0.10</text>
<text transform="translate(734.3,129.78) scale(0.94,1)" font-size="30.6" text-anchor="end">0.15</text>
<text transform="translate(734.3,21.7) scale(0.94,1)" font-size="30.6" text-anchor="end">0.20</text>
<text transform="translate(748.35,481) scale(0.94,1)" font-size="31" text-anchor="middle">-1.5</text>
<text transform="translate(845.6,481) scale(0.94,1)" font-size="31" text-anchor="middle">-1.0</text>
<text transform="translate(942.85,481) scale(0.94,1)" font-size="31" text-anchor="middle">-0.5</text>
<text transform="translate(1040.1,481) scale(0.94,1)" font-size="31" text-anchor="middle">0.0</text>
<text transform="translate(1137.35,481) scale(0.94,1)" font-size="31" text-anchor="middle">0.5</text>
<text transform="translate(1234.6,481) scale(0.94,1)" font-size="31" text-anchor="middle">1.0</text>
<text transform="translate(1331.85,481) scale(0.94,1)" font-size="31" text-anchor="middle">1.5</text>
<text x="971" y="530" font-size="32.6">E-E</text>
<text x="1024.7" y="541.3" font-size="18.6">F</text>
<text x="1046.7" y="530" font-size="33.4">(eV)</text>
<text x="1240" y="58.7" font-size="35" letter-spacing="1">(b)</text>
<path d="M749,418.42L750,417.76L751,417.11L752,416.46L753,415.8L754,415.15L755,414.49L756,413.83L757,413.17L758,412.51L759,411.85L760,411.19L761,410.52L762,409.85L763,409.18L764,408.51L765,407.83L766,407.16L767,406.47L768,405.79L769,405.1L770,404.41L771,403.71L772,403.01L773,402.31L774,401.6L775,400.89L776,400.17L777,399.45L778,398.72L779,397.99L780,397.25L781,396.51L782,395.76L783,395.01L784,394.26L785,393.5L786,392.74L787,391.98L788,391.21L789,390.45L790,389.68L791,388.91L792,388.15L793,387.38L794,386.61L795,385.85L796,385.09L797,384.32L798,383.57L799,382.81L800,382.06L801,381.31L802,380.57L803,379.83L804,379.09L805,378.36L806,377.64L807,376.92L808,376.21L809,375.51L810,374.82L811,374.13L812,373.45L813,372.79L814,372.13L815,371.49L816,370.86L817,370.24L818,369.63L819,369.04L820,368.47L821,367.92L822,367.38L823,366.86L824,366.36L825,365.88L826,365.43L827,364.99L828,364.58L829,364.19L830,363.83L831,363.49L832,363.18L833,362.9L834,362.64L835,362.41L836,362.21L837,362.03L838,361.87L839,361.73L840,361.61L841,361.51L842,361.44L843,361.38L844,361.33L845,361.3L846,361.29L847,361.28L848,361.29L849,361.31L850,361.34L851,361.37L852,361.41L853,361.45L854,361.5L855,361.55L856,361.6L857,361.66L858,361.7L859,361.75L860,361.79L861,361.83L862,361.86L863,361.88L864,361.89L865,361.89L866,361.88L867,361.86L868,361.83L869,361.79L870,361.74L871,361.67L872,361.59L873,361.5L874,361.4L875,361.28L876,361.15L877,361.01L878,360.85L879,360.68L880,360.5L881,360.3L882,360.09L883,359.86L884,359.6L885,359.33L886,359.04L887,358.73L888,358.39L889,358.03L890,357.65L891,357.24L892,356.81L893,356.36L894,355.9L895,355.43L896,354.95L897,354.48L898,354.01L899,353.55L900,353.1L901,352.67L902,352.25L903,351.84L904,351.44L905,351.04L906,350.66L907,350.28L908,349.9L909,349.53L910,349.17L911,348.8L912,348.44L913,348.08L914,347.72L915,347.37L916,347.02L917,346.68L918,346.34L919,346.01L920,345.69L921,345.38L922,345.08L923,344.79L924,344.51L925,344.24L926,343.99L927,343.75L928,343.52L929,343.31L930,343.12L931,342.94L932,342.78L933,342.64L934,342.52L935,342.42L936,342.34L937,342.28L938,342.25L939,342.23L940,342.24L941,342.26L942,342.3L943,342.35L944,342.42L945,342.51L946,342.6L947,342.7L948,342.82L949,342.94L950,343.07L951,343.2L952,343.34L953,343.48L954,343.62L955,343.76L956,343.9L957,344.04L958,344.18L959,344.31L960,344.43L961,344.55L962,344.66L963,344.76L964,344.85L965,344.92L966,344.98L967,345.03L968,345.06L969,345.08L970,345.07L971,345.06L972,345.02L973,344.97L974,344.91L975,344.83L976,344.73L977,344.62L978,344.5L979,344.36L980,344.21L981,344.04L982,343.86L983,343.67L984,343.46L985,343.25L986,343.02L987,342.77L988,342.52L989,342.25L990,341.98L991,341.69L992,341.4L993,341.1L994,340.8L995,340.5L996,340.19L997,339.89L998,339.59L999,339.29L1000,339L1001,338.71L1002,338.44L1003,338.17L1004,337.92L1005,337.68L1006,337.45L1007,337.25L1008,337.06L1009,336.89L1010,336.74L1011,336.61L1012,336.51L1013,336.44L1014,336.39L1015,336.38L1016,336.39L1017,336.43L1018,336.5L1019,336.6L1020,336.73L1021,336.88L1022,337.06L1023,337.27L1024,337.51L1025,337.77L1026,338.06L1027,338.37L1028,338.72L1029,339.08L1030,339.47L1031,339.89L1032,340.33L1033,340.8L1034,341.29L1035,341.82L1036,342.38L1037,342.98L1038,343.62L1039,344.29L1040,345.01L1041,345.77L1042,346.58L1043,347.42L1044,348.31L1045,349.23L1046,350.19L1047,351.18L1048,352.21L1049,353.26L1050,354.34L1051,355.45L1052,356.58L1053,357.74L1054,358.91L1055,360.1L1056,361.3L1057,362.52L1058,363.75L1059,364.98L1060,366.22L1061,367.47L1062,368.71L1063,369.96L1064,371.21L1065,372.45L1066,373.7L1067,374.93L1068,376.17L1069,377.39L1070,378.61L1071,379.82L1072,381.02L1073,382.21L1074,383.38L1075,384.54L1076,385.69L1077,386.81L1078,387.92L1079,389.01L1080,390.08L1081,391.13L1082,392.16L1083,393.16L1084,394.13L1085,395.08L1086,396L1087,396.89L1088,397.75L1089,398.58L1090,399.37L1091,400.13L1092,400.86L1093,401.55L1094,402.21L1095,402.84L1096,403.44L1097,404.01L1098,404.55L1099,405.06L1100,405.54L1101,405.99L1102,406.42L1103,406.81L1104,407.18L1105,407.53L1106,407.85L1107,408.15L1108,408.42L1109,408.67L1110,408.89L1111,409.1L1112,409.28L1113,409.44L1114,409.58L1115,409.71L1116,409.81L1117,409.89L1118,409.96L1119,410.01L1120,410.04L1121,410.05L1122,410.05L1123,410.04L1124,410.01L1125,409.97L1126,409.91L1127,409.84L1128,409.75L1129,409.66L1130,409.55L1131,409.42L1132,409.29L1133,409.14L1134,408.98L1135,408.8L1136,408.62L1137,408.42L1138,408.21L1139,407.99L1140,407.76L1141,407.52L1142,407.27L1143,407L1144,406.73L1145,406.45L1146,406.15L1147,405.85L1148,405.54L1149,405.22L1150,404.89L1151,404.55L1152,404.2L1153,403.84L1154,403.48L1155,403.11L1156,402.72L1157,402.34L1158,401.94L1159,401.54L1160,401.13L1161,400.72L1162,400.31L1163,399.89L1164,399.46L1165,399.04L1166,398.61L1167,398.19L1168,397.76L1169,397.34L1170,396.92L1171,396.5L1172,396.08L1173,395.67L1174,395.26L1175,394.85L1176,394.46L1177,394.07L1178,393.68L1179,393.31L1180,392.94L1181,392.59L1182,392.24L1183,391.9L1184,391.57L1185,391.25L1186,390.93L1187,390.61L1188,390.31L1189,390L1190,389.7L1191,389.4L1192,389.11L1193,388.81L1194,388.51L1195,388.22L1196,387.92L1197,387.62L1198,387.32L1199,387.02L1200,386.72L1201,386.41L1202,386.1L1203,385.78L1204,385.47L1205,385.15L1206,384.82L1207,384.5L1208,384.16L1209,383.83L1210,383.49L1211,383.15L1212,382.8L1213,382.44L1214,382.09L1215,381.72L1216,381.35L1217,380.97L1218,380.57L1219,380.17L1220,379.74L1221,379.3L1222,378.84L1223,378.36L1224,377.85L1225,377.32L1226,376.76L1227,376.17L1228,375.56L1229,374.91L1230,374.22L1231,373.5L1232,372.74L1233,371.94L1234,371.11L1235,370.24L1236,369.32L1237,368.37L1238,367.38L1239,366.35L1240,365.28L1241,364.17L1242,363.02L1243,361.82L1244,360.58L1245,359.3L1246,357.97L1247,356.6L1248,355.19L1249,353.74L1250,352.26L1251,350.75L1252,349.21L1253,347.66L1254,346.08L1255,344.5L1256,342.9L1257,341.3L1258,339.71L1259,338.11L1260,336.53L1261,334.95L1262,333.4L1263,331.86L1264,330.35L1265,328.87L1266,327.41L1267,325.97L1268,324.56L1269,323.17L1270,321.8L1271,320.45L1272,319.13L1273,317.83L1274,316.55L1275,315.29L1276,314.05L1277,312.83L1278,311.63L1279,310.45L1280,309.29L1281,308.14L1282,307.02L1283,305.91L1284,304.82L1285,303.75L1286,302.7L1287,301.66L1288,300.65L1289,299.65L1290,298.68L1291,297.72L1292,296.78L1293,295.86L1294,294.96L1295,294.08L1296,293.22L1297,292.38L1298,291.56L1299,290.77L1300,289.99L1301,289.24L1302,288.52L1303,287.83L1304,287.17L1305,286.54L1306,285.94L1307,285.38L1308,284.85L1309,284.36L1310,283.91L1311,283.5L1312,283.14L1313,282.81L1314,282.54L1315,282.3L1316,282.11L1317,281.96L1318,281.85L1319,281.78L1320,281.75L1321,281.75L1322,281.79L1323,281.86L1324,281.97L1325,282.1L1326,282.26L1327,282.44L1328,282.64L1329,282.85L1330,283.08L1331,283.31L1332,283.54" fill="none" stroke="#e0261a" stroke-width="3" stroke-linejoin="round"/>
<path d="M749,406.3L750,405.68L751,405.05L752,404.41L753,403.77L754,403.11L755,402.43L756,401.74L757,401.03L758,400.29L759,399.53L760,398.73L761,397.91L762,397.04L763,396.14L764,395.19L765,394.2L766,393.16L767,392.06L768,390.92L769,389.74L770,388.52L771,387.26L772,385.96L773,384.64L774,383.28L775,381.9L776,380.5L777,379.09L778,377.66L779,376.21L780,374.76L781,373.31L782,371.85L783,370.4L784,368.95L785,367.5L786,366.07L787,364.66L788,363.26L789,361.89L790,360.54L791,359.22L792,357.92L793,356.67L794,355.44L795,354.25L796,353.1L797,351.98L798,350.89L799,349.84L800,348.82L801,347.84L802,346.9L803,345.99L804,345.11L805,344.28L806,343.47L807,342.71L808,341.98L809,341.29L810,340.63L811,340.01L812,339.43L813,338.89L814,338.39L815,337.92L816,337.49L817,337.1L818,336.75L819,336.44L820,336.16L821,335.93L822,335.73L823,335.57L824,335.46L825,335.38L826,335.34L827,335.35L828,335.39L829,335.47L830,335.58L831,335.74L832,335.93L833,336.16L834,336.43L835,336.73L836,337.07L837,337.44L838,337.85L839,338.29L840,338.77L841,339.28L842,339.82L843,340.4L844,341.01L845,341.65L846,342.33L847,343.03L848,343.77L849,344.54L850,345.33L851,346.16L852,347.01L853,347.88L854,348.76L855,349.67L856,350.59L857,351.52L858,352.46L859,353.4L860,354.35L861,355.3L862,356.24L863,357.19L864,358.12L865,359.05L866,359.96L867,360.85L868,361.73L869,362.59L870,363.43L871,364.24L872,365.02L873,365.77L874,366.48L875,367.16L876,367.81L877,368.42L878,369L879,369.54L880,370.06L881,370.55L882,371.01L883,371.45L884,371.87L885,372.27L886,372.65L887,373.01L888,373.36L889,373.69L890,374.01L891,374.33L892,374.63L893,374.92L894,375.19L895,375.45L896,375.69L897,375.92L898,376.12L899,376.31L900,376.47L901,376.61L902,376.72L903,376.81L904,376.87L905,376.91L906,376.91L907,376.88L908,376.82L909,376.72L910,376.59L911,376.42L912,376.23L913,376L914,375.74L915,375.44L916,375.12L917,374.76L918,374.38L919,373.96L920,373.5L921,373.01L922,372.49L923,371.92L924,371.32L925,370.68L926,370.01L927,369.29L928,368.53L929,367.73L930,366.88L931,366L932,365.06L933,364.09L934,363.06L935,361.99L936,360.87L937,359.7L938,358.49L939,357.22L940,355.91L941,354.56L942,353.16L943,351.73L944,350.26L945,348.76L946,347.23L947,345.67L948,344.09L949,342.48L950,340.85L951,339.2L952,337.54L953,335.87L954,334.18L955,332.49L956,330.79L957,329.08L958,327.38L959,325.68L960,323.98L961,322.28L962,320.58L963,318.87L964,317.15L965,315.41L966,313.64L967,311.84L968,310.01L969,308.14L970,306.22L971,304.25L972,302.23L973,300.14L974,297.99L975,295.78L976,293.5L977,291.17L978,288.8L979,286.4L980,283.97L981,281.53L982,279.07L983,276.62L984,274.17L985,271.74L986,269.34L987,266.96L988,264.63L989,262.35L990,260.13L991,257.97L992,255.87L993,253.84L994,251.88L995,249.98L996,248.13L997,246.35L998,244.63L999,242.97L1000,241.37L1001,239.82L1002,238.33L1003,236.9L1004,235.52L1005,234.19L1006,232.92L1007,231.69L1008,230.52L1009,229.4L1010,228.33L1011,227.3L1012,226.32L1013,225.39L1014,224.5L1015,223.66L1016,222.86L1017,222.11L1018,221.39L1019,220.72L1020,220.09L1021,219.5L1022,218.95L1023,218.43L1024,217.96L1025,217.52L1026,217.12L1027,216.76L1028,216.43L1029,216.14L1030,215.88L1031,215.65L1032,215.45L1033,215.29L1034,215.15L1035,215.04L1036,214.96L1037,214.9L1038,214.87L1039,214.86L1040,214.88L1041,214.91L1042,214.96L1043,215.03L1044,215.11L1045,215.19L1046,215.28L1047,215.38L1048,215.47L1049,215.57L1050,215.65L1051,215.73L1052,215.8L1053,215.85L1054,215.88L1055,215.9L1056,215.89L1057,215.85L1058,215.78L1059,215.69L1060,215.58L1061,215.44L1062,215.28L1063,215.09L1064,214.89L1065,214.67L1066,214.43L1067,214.17L1068,213.9L1069,213.61L1070,213.31L1071,212.99L1072,212.66L1073,212.32L1074,211.97L1075,211.6L1076,211.22L1077,210.83L1078,210.44L1079,210.04L1080,209.63L1081,209.22L1082,208.81L1083,208.41L1084,208L1085,207.6L1086,207.21L1087,206.83L1088,206.46L1089,206.1L1090,205.75L1091,205.42L1092,205.1L1093,204.8L1094,204.52L1095,204.25L1096,204L1097,203.77L1098,203.55L1099,203.36L1100,203.19L1101,203.03L1102,202.9L1103,202.79L1104,202.7L1105,202.63L1106,202.59L1107,202.56L1108,202.56L1109,202.57L1110,202.61L1111,202.67L1112,202.75L1113,202.85L1114,202.97L1115,203.11L1116,203.28L1117,203.47L1118,203.69L1119,203.93L1120,204.2L1121,204.5L1122,204.83L1123,205.2L1124,205.59L1125,206.01L1126,206.46L1127,206.93L1128,207.42L1129,207.94L1130,208.47L1131,209.03L1132,209.61L1133,210.2L1134,210.8L1135,211.42L1136,212.06L1137,212.7L1138,213.36L1139,214.03L1140,214.71L1141,215.39L1142,216.08L1143,216.78L1144,217.49L1145,218.19L1146,218.91L1147,219.62L1148,220.35L1149,221.07L1150,221.8L1151,222.54L1152,223.27L1153,224.01L1154,224.75L1155,225.5L1156,226.25L1157,227L1158,227.75L1159,228.5L1160,229.26L1161,230.02L1162,230.77L1163,231.53L1164,232.29L1165,233.05L1166,233.81L1167,234.57L1168,235.33L1169,236.09L1170,236.85L1171,237.61L1172,238.37L1173,239.13L1174,239.89L1175,240.66L1176,241.42L1177,242.2L1178,242.97L1179,243.76L1180,244.55L1181,245.35L1182,246.16L1183,246.98L1184,247.81L1185,248.66L1186,249.51L1187,250.39L1188,251.27L1189,252.17L1190,253.09L1191,254.03L1192,254.99L1193,255.97L1194,256.96L1195,257.98L1196,259.03L1197,260.09L1198,261.19L1199,262.3L1200,263.44L1201,264.6L1202,265.78L1203,266.98L1204,268.2L1205,269.43L1206,270.68L1207,271.95L1208,273.22L1209,274.5L1210,275.8L1211,277.1L1212,278.41L1213,279.72L1214,281.04L1215,282.35L1216,283.67L1217,284.99L1218,286.31L1219,287.62L1220,288.93L1221,290.23L1222,291.52L1223,292.81L1224,294.08L1225,295.34L1226,296.59L1227,297.84L1228,299.07L1229,300.29L1230,301.49L1231,302.69L1232,303.88L1233,305.05L1234,306.22L1235,307.37L1236,308.51L1237,309.65L1238,310.77L1239,311.88L1240,312.97L1241,314.06L1242,315.14L1243,316.2L1244,317.26L1245,318.3L1246,319.33L1247,320.35L1248,321.36L1249,322.36L1250,323.34L1251,324.32L1252,325.28L1253,326.24L1254,327.18L1255,328.12L1256,329.04L1257,329.96L1258,330.88L1259,331.78L1260,332.68L1261,333.57L1262,334.46L1263,335.34L1264,336.21L1265,337.09L1266,337.96L1267,338.82L1268,339.69L1269,340.55L1270,341.41L1271,342.27L1272,343.13L1273,343.99L1274,344.85L1275,345.71L1276,346.57L1277,347.44L1278,348.3L1279,349.17L1280,350.05L1281,350.92L1282,351.81L1283,352.69L1284,353.58L1285,354.46L1286,355.35L1287,356.24L1288,357.14L1289,358.03L1290,358.92L1291,359.81L1292,360.7L1293,361.58L1294,362.47L1295,363.35L1296,364.23L1297,365.1L1298,365.97L1299,366.84L1300,367.7L1301,368.56L1302,369.41L1303,370.25L1304,371.09L1305,371.92L1306,372.74L1307,373.55L1308,374.36L1309,375.16L1310,375.95L1311,376.73L1312,377.51L1313,378.28L1314,379.04L1315,379.8L1316,380.56L1317,381.3L1318,382.05L1319,382.79L1320,383.52L1321,384.25L1322,384.98L1323,385.7L1324,386.43L1325,387.14L1326,387.86L1327,388.58L1328,389.29L1329,390L1330,390.71L1331,391.42L1332,392.13" fill="none" stroke="#807c14" stroke-width="3" stroke-linejoin="round"/>
<path d="M749,421.52L750,421.12L751,420.71L752,420.3L753,419.9L754,419.49L755,419.08L756,418.67L757,418.26L758,417.85L759,417.43L760,417.01L761,416.59L762,416.17L763,415.75L764,415.32L765,414.89L766,414.45L767,414.02L768,413.57L769,413.13L770,412.68L771,412.22L772,411.76L773,411.3L774,410.83L775,410.36L776,409.88L777,409.39L778,408.9L779,408.4L780,407.9L781,407.39L782,406.88L783,406.36L784,405.84L785,405.32L786,404.79L787,404.27L788,403.74L789,403.22L790,402.69L791,402.17L792,401.65L793,401.14L794,400.63L795,400.12L796,399.62L797,399.13L798,398.65L799,398.17L800,397.7L801,397.24L802,396.8L803,396.36L804,395.94L805,395.52L806,395.13L807,394.74L808,394.37L809,394.02L810,393.68L811,393.36L812,393.06L813,392.78L814,392.52L815,392.27L816,392.05L817,391.85L818,391.67L819,391.52L820,391.39L821,391.28L822,391.2L823,391.15L824,391.12L825,391.12L826,391.15L827,391.19L828,391.26L829,391.36L830,391.47L831,391.6L832,391.76L833,391.93L834,392.12L835,392.33L836,392.55L837,392.79L838,393.04L839,393.3L840,393.58L841,393.87L842,394.17L843,394.47L844,394.79L845,395.12L846,395.45L847,395.79L848,396.13L849,396.48L850,396.83L851,397.18L852,397.54L853,397.89L854,398.25L855,398.6L856,398.95L857,399.31L858,399.66L859,400L860,400.35L861,400.69L862,401.03L863,401.37L864,401.7L865,402.03L866,402.36L867,402.68L868,403L869,403.31L870,403.61L871,403.92L872,404.21L873,404.5L874,404.78L875,405.06L876,405.33L877,405.59L878,405.84L879,406.09L880,406.33L881,406.56L882,406.78L883,406.99L884,407.19L885,407.39L886,407.57L887,407.74L888,407.91L889,408.06L890,408.19L891,408.32L892,408.43L893,408.53L894,408.61L895,408.68L896,408.73L897,408.76L898,408.78L899,408.78L900,408.76L901,408.72L902,408.67L903,408.59L904,408.49L905,408.38L906,408.24L907,408.07L908,407.89L909,407.68L910,407.45L911,407.19L912,406.9L913,406.6L914,406.26L915,405.9L916,405.51L917,405.1L918,404.66L919,404.19L920,403.69L921,403.17L922,402.62L923,402.04L924,401.43L925,400.8L926,400.13L927,399.44L928,398.71L929,397.96L930,397.17L931,396.36L932,395.51L933,394.64L934,393.73L935,392.79L936,391.82L937,390.82L938,389.78L939,388.72L940,387.62L941,386.51L942,385.36L943,384.2L944,383.03L945,381.84L946,380.63L947,379.42L948,378.2L949,376.97L950,375.75L951,374.51L952,373.27L953,372.03L954,370.77L955,369.51L956,368.23L957,366.95L958,365.65L959,364.34L960,363.02L961,361.68L962,360.34L963,358.99L964,357.63L965,356.28L966,354.92L967,353.57L968,352.22L969,350.88L970,349.56L971,348.24L972,346.95L973,345.67L974,344.4L975,343.15L976,341.91L977,340.7L978,339.5L979,338.31L980,337.15L981,336L982,334.87L983,333.76L984,332.67L985,331.6L986,330.55L987,329.53L988,328.53L989,327.55L990,326.6L991,325.67L992,324.77L993,323.9L994,323.06L995,322.25L996,321.47L997,320.72L998,320L999,319.32L1000,318.67L1001,318.05L1002,317.47L1003,316.92L1004,316.41L1005,315.93L1006,315.48L1007,315.08L1008,314.71L1009,314.37L1010,314.08L1011,313.82L1012,313.6L1013,313.42L1014,313.28L1015,313.18L1016,313.12L1017,313.1L1018,313.12L1019,313.18L1020,313.28L1021,313.41L1022,313.58L1023,313.78L1024,314.01L1025,314.27L1026,314.56L1027,314.87L1028,315.21L1029,315.58L1030,315.96L1031,316.37L1032,316.79L1033,317.23L1034,317.69L1035,318.16L1036,318.64L1037,319.13L1038,319.64L1039,320.16L1040,320.68L1041,321.22L1042,321.76L1043,322.31L1044,322.87L1045,323.43L1046,324L1047,324.58L1048,325.15L1049,325.74L1050,326.32L1051,326.91L1052,327.5L1053,328.09L1054,328.68L1055,329.28L1056,329.88L1057,330.48L1058,331.08L1059,331.69L1060,332.3L1061,332.9L1062,333.51L1063,334.13L1064,334.74L1065,335.36L1066,335.97L1067,336.59L1068,337.21L1069,337.83L1070,338.45L1071,339.07L1072,339.69L1073,340.3L1074,340.92L1075,341.53L1076,342.14L1077,342.75L1078,343.35L1079,343.95L1080,344.54L1081,345.13L1082,345.71L1083,346.29L1084,346.85L1085,347.41L1086,347.97L1087,348.51L1088,349.05L1089,349.57L1090,350.09L1091,350.59L1092,351.08L1093,351.57L1094,352.04L1095,352.49L1096,352.94L1097,353.37L1098,353.78L1099,354.19L1100,354.57L1101,354.94L1102,355.3L1103,355.64L1104,355.97L1105,356.28L1106,356.58L1107,356.87L1108,357.15L1109,357.42L1110,357.67L1111,357.92L1112,358.16L1113,358.38L1114,358.6L1115,358.81L1116,359.02L1117,359.21L1118,359.4L1119,359.59L1120,359.77L1121,359.94L1122,360.11L1123,360.28L1124,360.44L1125,360.6L1126,360.76L1127,360.92L1128,361.07L1129,361.23L1130,361.39L1131,361.54L1132,361.7L1133,361.86L1134,362.02L1135,362.18L1136,362.35L1137,362.52L1138,362.7L1139,362.88L1140,363.06L1141,363.26L1142,363.45L1143,363.65L1144,363.86L1145,364.07L1146,364.29L1147,364.5L1148,364.72L1149,364.95L1150,365.17L1151,365.4L1152,365.63L1153,365.86L1154,366.09L1155,366.33L1156,366.56L1157,366.79L1158,367.02L1159,367.25L1160,367.48L1161,367.71L1162,367.94L1163,368.16L1164,368.38L1165,368.6L1166,368.81L1167,369.02L1168,369.23L1169,369.43L1170,369.63L1171,369.82L1172,370.01L1173,370.19L1174,370.36L1175,370.53L1176,370.69L1177,370.84L1178,370.99L1179,371.12L1180,371.25L1181,371.37L1182,371.48L1183,371.59L1184,371.68L1185,371.76L1186,371.84L1187,371.9L1188,371.96L1189,372L1190,372.04L1191,372.06L1192,372.08L1193,372.08L1194,372.08L1195,372.06L1196,372.04L1197,372L1198,371.95L1199,371.89L1200,371.82L1201,371.74L1202,371.64L1203,371.54L1204,371.43L1205,371.31L1206,371.18L1207,371.04L1208,370.9L1209,370.75L1210,370.6L1211,370.44L1212,370.28L1213,370.11L1214,369.94L1215,369.77L1216,369.6L1217,369.43L1218,369.26L1219,369.09L1220,368.92L1221,368.75L1222,368.58L1223,368.42L1224,368.26L1225,368.11L1226,367.95L1227,367.8L1228,367.65L1229,367.51L1230,367.37L1231,367.23L1232,367.1L1233,366.97L1234,366.85L1235,366.73L1236,366.61L1237,366.5L1238,366.4L1239,366.3L1240,366.2L1241,366.11L1242,366.03L1243,365.95L1244,365.88L1245,365.82L1246,365.76L1247,365.7L1248,365.66L1249,365.62L1250,365.59L1251,365.56L1252,365.55L1253,365.54L1254,365.54L1255,365.54L1256,365.56L1257,365.58L1258,365.61L1259,365.65L1260,365.7L1261,365.76L1262,365.83L1263,365.9L1264,365.98L1265,366.08L1266,366.18L1267,366.29L1268,366.41L1269,366.54L1270,366.68L1271,366.82L1272,366.98L1273,367.14L1274,367.32L1275,367.5L1276,367.69L1277,367.9L1278,368.11L1279,368.33L1280,368.56L1281,368.8L1282,369.05L1283,369.31L1284,369.58L1285,369.85L1286,370.14L1287,370.44L1288,370.75L1289,371.06L1290,371.39L1291,371.73L1292,372.08L1293,372.43L1294,372.8L1295,373.17L1296,373.55L1297,373.94L1298,374.34L1299,374.75L1300,375.16L1301,375.58L1302,376.01L1303,376.45L1304,376.89L1305,377.34L1306,377.8L1307,378.26L1308,378.72L1309,379.2L1310,379.68L1311,380.16L1312,380.65L1313,381.14L1314,381.64L1315,382.14L1316,382.64L1317,383.15L1318,383.67L1319,384.18L1320,384.7L1321,385.22L1322,385.75L1323,386.27L1324,386.8L1325,387.33L1326,387.86L1327,388.4L1328,388.93L1329,389.47L1330,390L1331,390.54L1332,391.08" fill="none" stroke="#3c4cb4" stroke-width="3" stroke-linejoin="round"/>
<path d="M749,403.4L750,403.05L751,402.7L752,402.35L753,402.01L754,401.66L755,401.31L756,400.96L757,400.61L758,400.26L759,399.91L760,399.57L761,399.22L762,398.87L763,398.52L764,398.17L765,397.82L766,397.47L767,397.12L768,396.78L769,396.43L770,396.08L771,395.73L772,395.38L773,395.03L774,394.68L775,394.33L776,393.98L777,393.63L778,393.28L779,392.93L780,392.58L781,392.23L782,391.88L783,391.53L784,391.18L785,390.83L786,390.48L787,390.13L788,389.78L789,389.42L790,389.07L791,388.72L792,388.37L793,388.01L794,387.66L795,387.31L796,386.95L797,386.6L798,386.24L799,385.89L800,385.53L801,385.18L802,384.82L803,384.46L804,384.1L805,383.74L806,383.39L807,383.03L808,382.67L809,382.32L810,381.97L811,381.63L812,381.29L813,380.96L814,380.64L815,380.33L816,380.03L817,379.74L818,379.47L819,379.21L820,378.96L821,378.73L822,378.52L823,378.33L824,378.16L825,378.01L826,377.87L827,377.77L828,377.68L829,377.63L830,377.6L831,377.59L832,377.62L833,377.67L834,377.76L835,377.87L836,378.01L837,378.19L838,378.39L839,378.62L840,378.88L841,379.16L842,379.47L843,379.8L844,380.16L845,380.55L846,380.95L847,381.38L848,381.83L849,382.31L850,382.8L851,383.32L852,383.85L853,384.41L854,384.98L855,385.57L856,386.18L857,386.81L858,387.45L859,388.11L860,388.78L861,389.47L862,390.16L863,390.87L864,391.58L865,392.3L866,393.02L867,393.74L868,394.46L869,395.17L870,395.88L871,396.59L872,397.28L873,397.96L874,398.63L875,399.29L876,399.93L877,400.54L878,401.14L879,401.71L880,402.26L881,402.78L882,403.27L883,403.73L884,404.16L885,404.55L886,404.9L887,405.22L888,405.5L889,405.75L890,405.96L891,406.14L892,406.29L893,406.41L894,406.49L895,406.54L896,406.56L897,406.55L898,406.52L899,406.45L900,406.34L901,406.2L902,406.02L903,405.78L904,405.49L905,405.14L906,404.73L907,404.26L908,403.72L909,403.12L910,402.45L911,401.73L912,400.94L913,400.1L914,399.19L915,398.23L916,397.21L917,396.13L918,395L919,393.82L920,392.58L921,391.29L922,389.94L923,388.55L924,387.1L925,385.61L926,384.06L927,382.47L928,380.84L929,379.17L930,377.45L931,375.71L932,373.94L933,372.14L934,370.32L935,368.48L936,366.63L937,364.77L938,362.91L939,361.04L940,359.17L941,357.3L942,355.43L943,353.58L944,351.74L945,349.9L946,348.09L947,346.29L948,344.52L949,342.77L950,341.05L951,339.36L952,337.71L953,336.1L954,334.53L955,333.01L956,331.55L957,330.14L958,328.79L959,327.51L960,326.3L961,325.16L962,324.09L963,323.08L964,322.14L965,321.27L966,320.46L967,319.7L968,319.01L969,318.38L970,317.81L971,317.3L972,316.84L973,316.43L974,316.08L975,315.79L976,315.55L977,315.36L978,315.23L979,315.15L980,315.13L981,315.16L982,315.24L983,315.37L984,315.56L985,315.79L986,316.08L987,316.41L988,316.79L989,317.23L990,317.7L991,318.23L992,318.8L993,319.42L994,320.08L995,320.79L996,321.54L997,322.33L998,323.16L999,324.04L1000,324.96L1001,325.91L1002,326.91L1003,327.95L1004,329.01L1005,330.11L1006,331.24L1007,332.4L1008,333.58L1009,334.78L1010,335.99L1011,337.22L1012,338.47L1013,339.72L1014,340.98L1015,342.24L1016,343.51L1017,344.77L1018,346.03L1019,347.28L1020,348.52L1021,349.75L1022,350.96L1023,352.15L1024,353.33L1025,354.48L1026,355.6L1027,356.71L1028,357.79L1029,358.86L1030,359.92L1031,360.96L1032,361.99L1033,363.02L1034,364.04L1035,365.06L1036,366.08L1037,367.1L1038,368.12L1039,369.15L1040,370.19L1041,371.24L1042,372.3L1043,373.36L1044,374.42L1045,375.47L1046,376.51L1047,377.53L1048,378.53L1049,379.51L1050,380.46L1051,381.38L1052,382.27L1053,383.14L1054,383.98L1055,384.79L1056,385.59L1057,386.36L1058,387.12L1059,387.86L1060,388.58L1061,389.28L1062,389.97L1063,390.65L1064,391.31L1065,391.97L1066,392.61L1067,393.25L1068,393.88L1069,394.5L1070,395.11L1071,395.71L1072,396.31L1073,396.89L1074,397.46L1075,398.02L1076,398.57L1077,399.1L1078,399.62L1079,400.13L1080,400.62L1081,401.1L1082,401.55L1083,402L1084,402.42L1085,402.83L1086,403.21L1087,403.58L1088,403.93L1089,404.25L1090,404.56L1091,404.84L1092,405.1L1093,405.33L1094,405.55L1095,405.73L1096,405.9L1097,406.03L1098,406.14L1099,406.23L1100,406.29L1101,406.33L1102,406.34L1103,406.34L1104,406.31L1105,406.26L1106,406.2L1107,406.11L1108,406.01L1109,405.89L1110,405.76L1111,405.61L1112,405.45L1113,405.27L1114,405.08L1115,404.88L1116,404.67L1117,404.45L1118,404.22L1119,403.98L1120,403.73L1121,403.48L1122,403.22L1123,402.96L1124,402.69L1125,402.42L1126,402.15L1127,401.87L1128,401.6L1129,401.32L1130,401.05L1131,400.77L1132,400.5L1133,400.23L1134,399.96L1135,399.7L1136,399.44L1137,399.18L1138,398.92L1139,398.67L1140,398.42L1141,398.18L1142,397.94L1143,397.7L1144,397.47L1145,397.25L1146,397.03L1147,396.82L1148,396.61L1149,396.41L1150,396.22L1151,396.03L1152,395.85L1153,395.68L1154,395.52L1155,395.36L1156,395.22L1157,395.08L1158,394.95L1159,394.83L1160,394.72L1161,394.62L1162,394.53L1163,394.45L1164,394.38L1165,394.32L1166,394.27L1167,394.23L1168,394.19L1169,394.17L1170,394.16L1171,394.15L1172,394.15L1173,394.16L1174,394.18L1175,394.21L1176,394.24L1177,394.27L1178,394.31L1179,394.36L1180,394.42L1181,394.47L1182,394.54L1183,394.6L1184,394.67L1185,394.75L1186,394.82L1187,394.9L1188,394.98L1189,395.06L1190,395.14L1191,395.22L1192,395.3L1193,395.38L1194,395.45L1195,395.53L1196,395.6L1197,395.67L1198,395.74L1199,395.8L1200,395.86L1201,395.91L1202,395.96L1203,396L1204,396.04L1205,396.07L1206,396.09L1207,396.1L1208,396.11L1209,396.1L1210,396.09L1211,396.07L1212,396.04L1213,395.99L1214,395.94L1215,395.87L1216,395.79L1217,395.7L1218,395.6L1219,395.49L1220,395.36L1221,395.21L1222,395.05L1223,394.88L1224,394.69L1225,394.49L1226,394.27L1227,394.03L1228,393.78L1229,393.5L1230,393.21L1231,392.91L1232,392.58L1233,392.23L1234,391.87L1235,391.48L1236,391.08L1237,390.65L1238,390.2L1239,389.73L1240,389.24L1241,388.73L1242,388.19L1243,387.64L1244,387.06L1245,386.47L1246,385.86L1247,385.24L1248,384.6L1249,383.95L1250,383.29L1251,382.62L1252,381.94L1253,381.24L1254,380.55L1255,379.84L1256,379.13L1257,378.42L1258,377.71L1259,376.99L1260,376.27L1261,375.56L1262,374.84L1263,374.13L1264,373.43L1265,372.73L1266,372.03L1267,371.35L1268,370.67L1269,370L1270,369.35L1271,368.7L1272,368.07L1273,367.45L1274,366.85L1275,366.25L1276,365.67L1277,365.1L1278,364.54L1279,364L1280,363.47L1281,362.95L1282,362.45L1283,361.96L1284,361.48L1285,361.01L1286,360.56L1287,360.12L1288,359.7L1289,359.29L1290,358.89L1291,358.51L1292,358.14L1293,357.78L1294,357.44L1295,357.11L1296,356.8L1297,356.51L1298,356.24L1299,355.98L1300,355.74L1301,355.53L1302,355.33L1303,355.16L1304,355.01L1305,354.89L1306,354.79L1307,354.72L1308,354.67L1309,354.66L1310,354.67L1311,354.71L1312,354.78L1313,354.88L1314,355.02L1315,355.19L1316,355.38L1317,355.6L1318,355.85L1319,356.12L1320,356.42L1321,356.73L1322,357.06L1323,357.41L1324,357.77L1325,358.15L1326,358.54L1327,358.94L1328,359.35L1329,359.76L1330,360.18L1331,360.61L1332,361.03" fill="none" stroke="#e6167f" stroke-width="3" stroke-linejoin="round"/>
<path d="M749,408.97L750,408.86L751,408.74L752,408.62L753,408.48L754,408.33L755,408.16L756,407.97L757,407.75L758,407.5L759,407.22L760,406.9L761,406.54L762,406.14L763,405.68L764,405.18L765,404.62L766,404L767,403.32L768,402.57L769,401.77L770,400.92L771,400L772,399.04L773,398.03L774,396.97L775,395.86L776,394.71L777,393.51L778,392.28L779,391.01L780,389.7L781,388.36L782,386.99L783,385.58L784,384.15L785,382.69L786,381.21L787,379.7L788,378.18L789,376.64L790,375.08L791,373.51L792,371.92L793,370.33L794,368.73L795,367.12L796,365.5L797,363.89L798,362.28L799,360.66L800,359.06L801,357.46L802,355.86L803,354.28L804,352.71L805,351.15L806,349.61L807,348.09L808,346.59L809,345.11L810,343.66L811,342.23L812,340.83L813,339.46L814,338.12L815,336.82L816,335.55L817,334.33L818,333.14L819,331.99L820,330.89L821,329.83L822,328.82L823,327.85L824,326.93L825,326.05L826,325.22L827,324.44L828,323.7L829,323.02L830,322.39L831,321.8L832,321.27L833,320.79L834,320.37L835,320L836,319.68L837,319.42L838,319.21L839,319.07L840,318.97L841,318.94L842,318.97L843,319.06L844,319.2L845,319.41L846,319.67L847,320L848,320.39L849,320.84L850,321.35L851,321.92L852,322.56L853,323.25L854,324.01L855,324.84L856,325.72L857,326.67L858,327.69L859,328.77L860,329.91L861,331.11L862,332.38L863,333.7L864,335.08L865,336.51L866,337.99L867,339.52L868,341.1L869,342.72L870,344.38L871,346.08L872,347.82L873,349.6L874,351.4L875,353.24L876,355.11L877,357L878,358.91L879,360.85L880,362.81L881,364.78L882,366.77L883,368.77L884,370.77L885,372.79L886,374.81L887,376.83L888,378.85L889,380.87L890,382.89L891,384.89L892,386.88L893,388.86L894,390.82L895,392.75L896,394.65L897,396.52L898,398.34L899,400.13L900,401.87L901,403.56L902,405.19L903,406.76L904,408.27L905,409.71L906,411.08L907,412.37L908,413.6L909,414.75L910,415.84L911,416.86L912,417.83L913,418.73L914,419.58L915,420.38L916,421.13L917,421.83L918,422.48L919,423.09L920,423.66L921,424.2L922,424.7L923,425.16L924,425.6L925,426L926,426.36L927,426.7L928,427L929,427.28L930,427.52L931,427.74L932,427.92L933,428.08L934,428.21L935,428.32L936,428.4L937,428.45L938,428.48L939,428.49L940,428.47L941,428.43L942,428.37L943,428.28L944,428.18L945,428.05L946,427.91L947,427.75L948,427.57L949,427.37L950,427.16L951,426.93L952,426.69L953,426.43L954,426.16L955,425.88L956,425.59L957,425.29L958,424.97L959,424.65L960,424.32L961,423.98L962,423.63L963,423.28L964,422.92L965,422.56L966,422.19L967,421.82L968,421.45L969,421.07L970,420.69L971,420.31L972,419.92L973,419.53L974,419.13L975,418.73L976,418.32L977,417.9L978,417.48L979,417.04L980,416.6L981,416.15L982,415.69L983,415.22L984,414.73L985,414.24L986,413.73L987,413.21L988,412.68L989,412.13L990,411.57L991,410.99L992,410.39L993,409.78L994,409.16L995,408.51L996,407.85L997,407.17L998,406.47L999,405.75L1000,405.01L1001,404.24L1002,403.46L1003,402.65L1004,401.82L1005,400.96L1006,400.08L1007,399.16L1008,398.22L1009,397.25L1010,396.25L1011,395.22L1012,394.16L1013,393.06L1014,391.93L1015,390.77L1016,389.57L1017,388.33L1018,387.05L1019,385.73L1020,384.38L1021,382.98L1022,381.54L1023,380.05L1024,378.51L1025,376.92L1026,375.27L1027,373.56L1028,371.79L1029,369.96L1030,368.07L1031,366.1L1032,364.07L1033,361.96L1034,359.77L1035,357.5L1036,355.16L1037,352.73L1038,350.21L1039,347.6L1040,344.9L1041,342.1L1042,339.23L1043,336.28L1044,333.27L1045,330.21L1046,327.11L1047,323.98L1048,320.83L1049,317.67L1050,314.51L1051,311.34L1052,308.15L1053,304.93L1054,301.67L1055,298.36L1056,294.98L1057,291.53L1058,287.99L1059,284.35L1060,280.63L1061,276.83L1062,272.98L1063,269.07L1064,265.13L1065,261.16L1066,257.18L1067,253.19L1068,249.18L1069,245.14L1070,241.08L1071,237L1072,232.88L1073,228.74L1074,224.55L1075,220.33L1076,216.07L1077,211.76L1078,207.41L1079,203.04L1080,198.65L1081,194.26L1082,189.88L1083,185.53L1084,181.22L1085,176.95L1086,172.75L1087,168.63L1088,164.6L1089,160.67L1090,156.85L1091,153.16L1092,149.61L1093,146.22L1094,143L1095,139.95L1096,137.09L1097,134.42L1098,131.93L1099,129.61L1100,127.46L1101,125.47L1102,123.63L1103,121.94L1104,120.39L1105,118.97L1106,117.68L1107,116.5L1108,115.44L1109,114.49L1110,113.65L1111,112.9L1112,112.26L1113,111.72L1114,111.27L1115,110.92L1116,110.67L1117,110.5L1118,110.42L1119,110.43L1120,110.53L1121,110.73L1122,111.02L1123,111.42L1124,111.92L1125,112.53L1126,113.25L1127,114.09L1128,115.05L1129,116.13L1130,117.34L1131,118.69L1132,120.17L1133,121.78L1134,123.53L1135,125.4L1136,127.39L1137,129.5L1138,131.7L1139,134.01L1140,136.42L1141,138.91L1142,141.48L1143,144.12L1144,146.83L1145,149.61L1146,152.44L1147,155.31L1148,158.23L1149,161.19L1150,164.17L1151,167.18L1152,170.21L1153,173.25L1154,176.29L1155,179.35L1156,182.41L1157,185.47L1158,188.53L1159,191.58L1160,194.63L1161,197.66L1162,200.67L1163,203.67L1164,206.65L1165,209.6L1166,212.52L1167,215.41L1168,218.27L1169,221.09L1170,223.86L1171,226.59L1172,229.27L1173,231.89L1174,234.46L1175,236.96L1176,239.4L1177,241.77L1178,244.06L1179,246.28L1180,248.42L1181,250.48L1182,252.48L1183,254.4L1184,256.26L1185,258.05L1186,259.78L1187,261.45L1188,263.07L1189,264.62L1190,266.13L1191,267.58L1192,268.98L1193,270.34L1194,271.65L1195,272.92L1196,274.15L1197,275.34L1198,276.5L1199,277.62L1200,278.71L1201,279.78L1202,280.81L1203,281.82L1204,282.81L1205,283.77L1206,284.72L1207,285.65L1208,286.56L1209,287.47L1210,288.36L1211,289.24L1212,290.11L1213,290.98L1214,291.85L1215,292.71L1216,293.58L1217,294.45L1218,295.32L1219,296.21L1220,297.1L1221,298L1222,298.91L1223,299.84L1224,300.76L1225,301.69L1226,302.62L1227,303.54L1228,304.46L1229,305.36L1230,306.25L1231,307.13L1232,307.98L1233,308.82L1234,309.65L1235,310.47L1236,311.27L1237,312.06L1238,312.85L1239,313.62L1240,314.38L1241,315.14L1242,315.89L1243,316.64L1244,317.38L1245,318.12L1246,318.86L1247,319.59L1248,320.33L1249,321.07L1250,321.8L1251,322.54L1252,323.29L1253,324.04L1254,324.79L1255,325.55L1256,326.32L1257,327.1L1258,327.88L1259,328.68L1260,329.48L1261,330.28L1262,331.1L1263,331.92L1264,332.74L1265,333.57L1266,334.4L1267,335.24L1268,336.08L1269,336.92L1270,337.77L1271,338.61L1272,339.46L1273,340.3L1274,341.15L1275,341.99L1276,342.84L1277,343.68L1278,344.52L1279,345.35L1280,346.19L1281,347.01L1282,347.84L1283,348.65L1284,349.47L1285,350.27L1286,351.07L1287,351.86L1288,352.64L1289,353.42L1290,354.19L1291,354.95L1292,355.71L1293,356.45L1294,357.2L1295,357.93L1296,358.66L1297,359.38L1298,360.1L1299,360.81L1300,361.52L1301,362.22L1302,362.92L1303,363.61L1304,364.29L1305,364.98L1306,365.65L1307,366.32L1308,366.99L1309,367.66L1310,368.32L1311,368.97L1312,369.63L1313,370.28L1314,370.92L1315,371.57L1316,372.21L1317,372.85L1318,373.48L1319,374.12L1320,374.75L1321,375.38L1322,376.01L1323,376.63L1324,377.26L1325,377.88L1326,378.5L1327,379.12L1328,379.74L1329,380.36L1330,380.98L1331,381.6L1332,382.22" fill="none" stroke="#0e8a38" stroke-width="3" stroke-linejoin="round"/>
<path d="M749,426.65L750,426.68L751,426.72L752,426.75L753,426.78L754,426.81L755,426.83L756,426.86L757,426.88L758,426.89L759,426.91L760,426.91L761,426.91L762,426.91L763,426.9L764,426.88L765,426.86L766,426.83L767,426.79L768,426.74L769,426.68L770,426.61L771,426.53L772,426.44L773,426.35L774,426.24L775,426.12L776,425.99L777,425.85L778,425.7L779,425.54L780,425.38L781,425.2L782,425.02L783,424.82L784,424.62L785,424.41L786,424.19L787,423.97L788,423.73L789,423.49L790,423.24L791,422.99L792,422.72L793,422.46L794,422.18L795,421.9L796,421.61L797,421.31L798,421.01L799,420.71L800,420.39L801,420.08L802,419.76L803,419.43L804,419.1L805,418.76L806,418.42L807,418.07L808,417.73L809,417.37L810,417.02L811,416.66L812,416.29L813,415.93L814,415.56L815,415.19L816,414.82L817,414.45L818,414.07L819,413.7L820,413.32L821,412.94L822,412.56L823,412.18L824,411.8L825,411.42L826,411.04L827,410.66L828,410.28L829,409.91L830,409.53L831,409.15L832,408.78L833,408.41L834,408.04L835,407.67L836,407.31L837,406.95L838,406.59L839,406.24L840,405.88L841,405.54L842,405.19L843,404.85L844,404.52L845,404.19L846,403.86L847,403.54L848,403.22L849,402.91L850,402.61L851,402.3L852,402.01L853,401.71L854,401.43L855,401.14L856,400.87L857,400.6L858,400.33L859,400.07L860,399.81L861,399.56L862,399.31L863,399.07L864,398.84L865,398.61L866,398.38L867,398.16L868,397.95L869,397.74L870,397.54L871,397.34L872,397.15L873,396.97L874,396.79L875,396.61L876,396.45L877,396.29L878,396.14L879,396.01L880,395.89L881,395.79L882,395.7L883,395.64L884,395.59L885,395.57L886,395.58L887,395.61L888,395.68L889,395.77L890,395.89L891,396.04L892,396.21L893,396.41L894,396.63L895,396.87L896,397.13L897,397.4L898,397.69L899,397.99L900,398.31L901,398.63L902,398.97L903,399.31L904,399.66L905,400.01L906,400.36L907,400.71L908,401.07L909,401.42L910,401.76L911,402.1L912,402.44L913,402.76L914,403.08L915,403.39L916,403.69L917,403.98L918,404.25L919,404.52L920,404.77L921,405.01L922,405.24L923,405.45L924,405.65L925,405.83L926,406L927,406.14L928,406.27L929,406.39L930,406.48L931,406.56L932,406.61L933,406.64L934,406.66L935,406.65L936,406.61L937,406.56L938,406.48L939,406.37L940,406.24L941,406.09L942,405.91L943,405.71L944,405.48L945,405.23L946,404.97L947,404.68L948,404.37L949,404.05L950,403.7L951,403.34L952,402.96L953,402.57L954,402.16L955,401.74L956,401.3L957,400.85L958,400.39L959,399.92L960,399.44L961,398.95L962,398.45L963,397.94L964,397.42L965,396.9L966,396.37L967,395.83L968,395.29L969,394.75L970,394.21L971,393.66L972,393.12L973,392.57L974,392.03L975,391.49L976,390.95L977,390.42L978,389.89L979,389.38L980,388.87L981,388.37L982,387.88L983,387.41L984,386.95L985,386.5L986,386.07L987,385.65L988,385.25L989,384.87L990,384.51L991,384.17L992,383.85L993,383.55L994,383.28L995,383.04L996,382.82L997,382.63L998,382.46L999,382.33L1000,382.23L1001,382.15L1002,382.11L1003,382.09L1004,382.1L1005,382.13L1006,382.2L1007,382.28L1008,382.39L1009,382.53L1010,382.69L1011,382.87L1012,383.07L1013,383.3L1014,383.54L1015,383.8L1016,384.08L1017,384.37L1018,384.67L1019,384.97L1020,385.27L1021,385.56L1022,385.84L1023,386.11L1024,386.36L1025,386.58L1026,386.78L1027,386.95L1028,387.07L1029,387.16L1030,387.2L1031,387.2L1032,387.14L1033,387.02L1034,386.84L1035,386.59L1036,386.27L1037,385.89L1038,385.44L1039,384.94L1040,384.38L1041,383.76L1042,383.09L1043,382.37L1044,381.61L1045,380.81L1046,379.96L1047,379.08L1048,378.17L1049,377.22L1050,376.25L1051,375.24L1052,374.19L1053,373.09L1054,371.93L1055,370.71L1056,369.41L1057,368.04L1058,366.59L1059,365.06L1060,363.44L1061,361.75L1062,359.99L1063,358.15L1064,356.24L1065,354.26L1066,352.21L1067,350.09L1068,347.91L1069,345.67L1070,343.36L1071,341L1072,338.58L1073,336.1L1074,333.56L1075,330.97L1076,328.34L1077,325.66L1078,322.96L1079,320.24L1080,317.5L1081,314.76L1082,312.03L1083,309.31L1084,306.62L1085,303.96L1086,301.35L1087,298.78L1088,296.27L1089,293.84L1090,291.48L1091,289.21L1092,287.03L1093,284.97L1094,283.01L1095,281.18L1096,279.48L1097,277.9L1098,276.45L1099,275.12L1100,273.91L1101,272.81L1102,271.82L1103,270.94L1104,270.16L1105,269.47L1106,268.89L1107,268.39L1108,267.97L1109,267.64L1110,267.39L1111,267.22L1112,267.11L1113,267.08L1114,267.11L1115,267.2L1116,267.36L1117,267.58L1118,267.87L1119,268.22L1120,268.64L1121,269.13L1122,269.69L1123,270.31L1124,271L1125,271.76L1126,272.59L1127,273.49L1128,274.46L1129,275.49L1130,276.6L1131,277.78L1132,279.04L1133,280.36L1134,281.76L1135,283.22L1136,284.75L1137,286.34L1138,287.99L1139,289.68L1140,291.43L1141,293.21L1142,295.04L1143,296.9L1144,298.79L1145,300.71L1146,302.65L1147,304.61L1148,306.58L1149,308.57L1150,310.56L1151,312.55L1152,314.53L1153,316.51L1154,318.48L1155,320.44L1156,322.38L1157,324.29L1158,326.18L1159,328.05L1160,329.88L1161,331.68L1162,333.44L1163,335.16L1164,336.84L1165,338.46L1166,340.04L1167,341.56L1168,343.02L1169,344.43L1170,345.77L1171,347.04L1172,348.23L1173,349.36L1174,350.41L1175,351.38L1176,352.27L1177,353.1L1178,353.85L1179,354.53L1180,355.14L1181,355.69L1182,356.16L1183,356.57L1184,356.92L1185,357.2L1186,357.42L1187,357.58L1188,357.69L1189,357.73L1190,357.71L1191,357.65L1192,357.53L1193,357.36L1194,357.14L1195,356.88L1196,356.59L1197,356.25L1198,355.88L1199,355.48L1200,355.06L1201,354.61L1202,354.13L1203,353.64L1204,353.13L1205,352.61L1206,352.07L1207,351.53L1208,350.99L1209,350.44L1210,349.9L1211,349.36L1212,348.83L1213,348.3L1214,347.8L1215,347.31L1216,346.83L1217,346.38L1218,345.96L1219,345.55L1220,345.18L1221,344.82L1222,344.49L1223,344.18L1224,343.9L1225,343.63L1226,343.39L1227,343.18L1228,342.98L1229,342.81L1230,342.67L1231,342.54L1232,342.44L1233,342.36L1234,342.3L1235,342.27L1236,342.25L1237,342.26L1238,342.29L1239,342.34L1240,342.42L1241,342.51L1242,342.63L1243,342.77L1244,342.92L1245,343.09L1246,343.28L1247,343.48L1248,343.69L1249,343.92L1250,344.16L1251,344.41L1252,344.67L1253,344.94L1254,345.21L1255,345.49L1256,345.77L1257,346.06L1258,346.35L1259,346.65L1260,346.94L1261,347.23L1262,347.52L1263,347.81L1264,348.09L1265,348.37L1266,348.64L1267,348.9L1268,349.16L1269,349.4L1270,349.64L1271,349.86L1272,350.07L1273,350.27L1274,350.45L1275,350.61L1276,350.76L1277,350.89L1278,351L1279,351.08L1280,351.15L1281,351.19L1282,351.21L1283,351.21L1284,351.19L1285,351.16L1286,351.1L1287,351.02L1288,350.92L1289,350.81L1290,350.68L1291,350.54L1292,350.38L1293,350.2L1294,350.01L1295,349.81L1296,349.6L1297,349.37L1298,349.13L1299,348.88L1300,348.62L1301,348.35L1302,348.07L1303,347.78L1304,347.49L1305,347.18L1306,346.88L1307,346.56L1308,346.24L1309,345.92L1310,345.59L1311,345.26L1312,344.92L1313,344.59L1314,344.25L1315,343.91L1316,343.57L1317,343.23L1318,342.89L1319,342.54L1320,342.2L1321,341.85L1322,341.51L1323,341.16L1324,340.81L1325,340.46L1326,340.11L1327,339.76L1328,339.41L1329,339.06L1330,338.71L1331,338.36L1332,338.01" fill="none" stroke="#1e1e78" stroke-width="3" stroke-linejoin="round"/>
<ellipse cx="1039.6" cy="214.2" rx="8.8" ry="9.3" fill="rgba(178,200,95,0.45)" stroke="#586c1c" stroke-width="2.7"/>
<ellipse cx="1040.6" cy="346.4" rx="8.4" ry="9.0" fill="rgba(190,245,205,0.6)" stroke="#20b43a" stroke-width="2.8"/>
<path d="M1039.7,14.1V444" stroke="#000" stroke-width="3.2" stroke-linecap="round" stroke-dasharray="1.8 15.92"/>
<rect x="758" y="30.2" width="223.3" height="164.7" fill="#fff" stroke="#6a6a6a" stroke-width="1.5"/>
<path d="M769.5,45.3H820.5" stroke="#e0261a" stroke-width="3" stroke-linecap="round"/>
<text x="825.3" y="51.9" font-size="22.4">P(1) |s&gt; 10-10</text>
<path d="M769.5,72.7H820.5" stroke="#e6167f" stroke-width="3" stroke-linecap="round"/>
<text x="825.3" y="79.48" font-size="22.4">P(2) |s&gt; 10-10</text>
<path d="M769.5,100.1H820.5" stroke="#3c4cb4" stroke-width="3" stroke-linecap="round"/>
<text x="825.3" y="107.06" font-size="22.4">P(1) |s&gt; 0001A</text>
<path d="M769.5,127.5H820.5" stroke="#1e1e78" stroke-width="3" stroke-linecap="round"/>
<text x="825.3" y="134.64" font-size="22.4">P(2) |s&gt; 0001A</text>
<path d="M769.5,154.9H820.5" stroke="#807c14" stroke-width="3" stroke-linecap="round"/>
<text x="825.3" y="162.22" font-size="22.4">P(1) |s&gt; bulk</text>
<path d="M769.5,182.3H820.5" stroke="#0e8a38" stroke-width="3" stroke-linecap="round"/>
<text x="825.3" y="189.8" font-size="22.4">P(2) |s&gt; bulk</text>
</svg></body></html>
